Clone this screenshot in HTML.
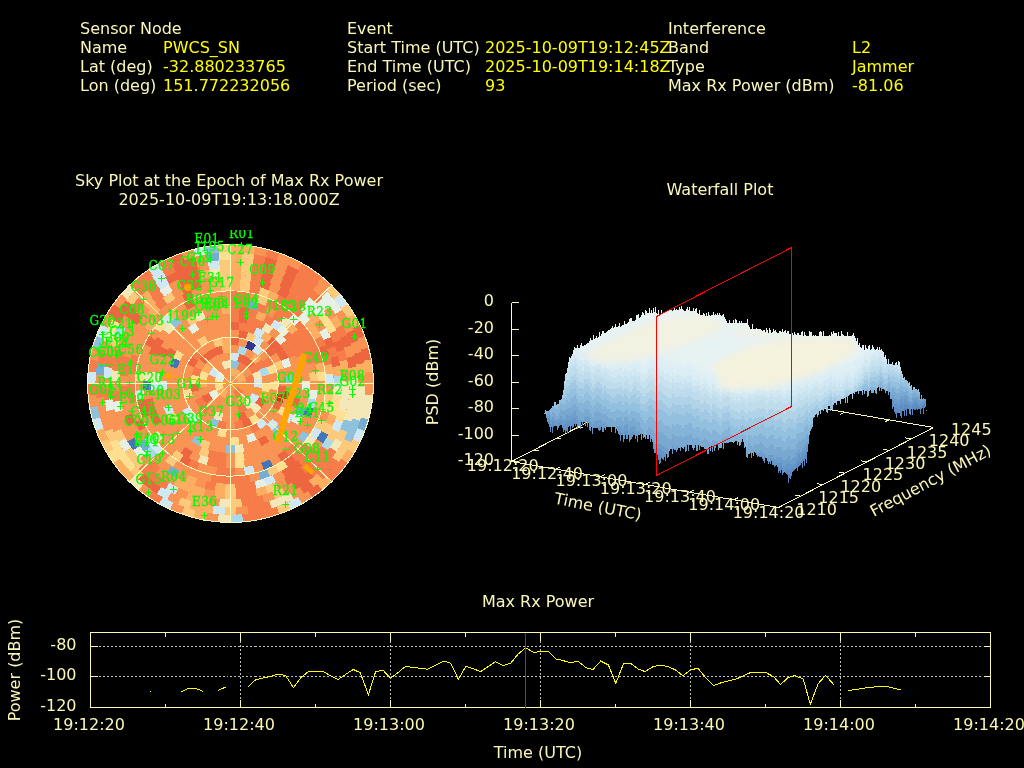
<!DOCTYPE html>
<html><head><meta charset="utf-8"><title>Interference Event Report</title>
<style>
html,body{margin:0;padding:0;background:#000;}
body{width:1024px;height:768px;overflow:hidden;}
svg{display:block;font-family:"DejaVu Sans","Liberation Sans",sans-serif;font-size:16px;}
.l{fill:#fbf7b8}
.v{fill:#ffff00}
.sat{font-family:"DejaVu Serif","Liberation Serif",serif;font-size:12px;fill:#00ff00;letter-spacing:0.45px;stroke:#00ff00;stroke-width:0.3px}
.ax{stroke:#fbf7b8;stroke-width:1;fill:none;shape-rendering:crispEdges}
.gr{stroke:#bebebe;stroke-width:1;fill:none;stroke-dasharray:2 2;shape-rendering:crispEdges}
</style></head><body>
<svg width="1024" height="768" viewBox="0 0 1024 768">
<rect width="1024" height="768" fill="#000"/>
<g id="header">
<text x="80" y="33.5" class="l">Sensor Node</text>
<text x="80" y="52.5" class="l">Name</text>
<text x="80" y="71.5" class="l">Lat (deg)</text>
<text x="80" y="90.5" class="l">Lon (deg)</text>
<text x="163" y="52.5" class="v">PWCS_SN</text>
<text x="163" y="71.5" class="v">-32.880233765</text>
<text x="163" y="90.5" class="v">151.772232056</text>
<text x="347" y="33.5" class="l">Event</text>
<text x="347" y="52.5" class="l">Start Time (UTC)</text>
<text x="347" y="71.5" class="l">End Time (UTC)</text>
<text x="347" y="90.5" class="l">Period (sec)</text>
<text x="485" y="52.5" class="v">2025-10-09T19:12:45Z</text>
<text x="485" y="71.5" class="v">2025-10-09T19:14:18Z</text>
<text x="485" y="90.5" class="v">93</text>
<text x="668" y="33.5" class="l">Interference</text>
<text x="668" y="52.5" class="l">Band</text>
<text x="668" y="71.5" class="l">Type</text>
<text x="668" y="90.5" class="l">Max Rx Power (dBm)</text>
<text x="852" y="52.5" class="v">L2</text>
<text x="852" y="71.5" class="v">Jammer</text>
<text x="852" y="90.5" class="v">-81.06</text>
</g>
<text x="229" y="185.5" class="l" text-anchor="middle">Sky Plot at the Epoch of Max Rx Power</text>
<text x="229" y="204.5" class="l" text-anchor="middle">2025-10-09T19:13:18.000Z</text>
<text x="720" y="194.5" class="l" text-anchor="middle">Waterfall Plot</text>
<text x="538" y="606.5" class="l" text-anchor="middle">Max Rx Power</text>
<g id="sky">
<g shape-rendering="crispEdges">
<ellipse cx="230.5" cy="383.5" rx="143.0" ry="139.0" fill="#f99455"/>
<polygon points="230.5,244.5 243.0,245.0 255.3,246.6 254.0,254.2 242.3,252.7 230.5,252.2" fill="#fdae61"/>
<polygon points="267.5,249.2 279.4,252.9 276.7,260.1 265.5,256.7" fill="#f67d4a"/>
<polygon points="302.0,263.1 312.5,269.6 322.4,277.0 317.3,282.9 308.0,276.0 298.0,269.8" fill="#f67d4a"/>
<polygon points="331.6,285.2 340.0,294.2 334.0,299.1 326.0,290.7" fill="#fdc97a"/>
<polygon points="340.0,294.2 347.6,303.8 341.1,308.2 334.0,299.1" fill="#cfe8f3"/>
<polygon points="347.6,303.8 354.3,314.0 347.5,317.9 341.1,308.2" fill="#fdc97a"/>
<polygon points="354.3,314.0 360.1,324.8 352.9,328.0 347.5,317.9" fill="#fdae61"/>
<polygon points="360.1,324.8 364.9,336.0 357.4,338.6 352.9,328.0" fill="#ee6640"/>
<polygon points="368.6,347.5 371.3,359.4 363.5,360.7 361.0,349.5" fill="#ee6640"/>
<polygon points="371.3,359.4 373.0,371.4 365.0,372.1 363.5,360.7" fill="#fdae61"/>
<polygon points="373.0,395.6 371.3,407.6 368.6,419.5 361.0,417.5 363.5,406.3 365.0,394.9" fill="#f5e8b8"/>
<polygon points="368.6,419.5 364.9,431.0 357.4,428.4 361.0,417.5" fill="#74add1"/>
<polygon points="364.9,431.0 360.1,442.2 352.9,439.0 357.4,428.4" fill="#cfe8f3"/>
<polygon points="360.1,442.2 354.3,453.0 347.5,449.1 352.9,439.0" fill="#fdc97a"/>
<polygon points="354.3,453.0 347.6,463.2 341.1,458.8 347.5,449.1" fill="#fdae61"/>
<polygon points="347.6,463.2 340.0,472.8 331.6,481.8 326.0,476.3 334.0,467.9 341.1,458.8" fill="#f67d4a"/>
<polygon points="331.6,481.8 322.4,490.0 317.3,484.1 326.0,476.3" fill="#fdae61"/>
<polygon points="322.4,490.0 312.5,497.4 308.0,491.0 317.3,484.1" fill="#ee6640"/>
<polygon points="302.0,503.9 290.9,509.5 287.6,502.5 298.0,497.2" fill="#cfe8f3"/>
<polygon points="290.9,509.5 279.4,514.1 276.7,506.9 287.6,502.5" fill="#fdc97a"/>
<polygon points="279.4,514.1 267.5,517.8 255.3,520.4 243.0,522.0 242.3,514.3 254.0,512.8 265.5,510.3 276.7,506.9" fill="#f67d4a"/>
<polygon points="243.0,522.0 230.5,522.5 230.5,514.8 242.3,514.3" fill="#abd9e9"/>
<polygon points="230.5,522.5 218.0,522.0 218.7,514.3 230.5,514.8" fill="#f5e8b8"/>
<polygon points="205.7,520.4 193.5,517.8 195.5,510.3 207.0,512.8" fill="#fdae61"/>
<polygon points="193.5,517.8 181.6,514.1 184.3,506.9 195.5,510.3" fill="#fdc97a"/>
<polygon points="170.1,509.5 159.0,503.9 163.0,497.2 173.4,502.5" fill="#cfe8f3"/>
<polygon points="159.0,503.9 148.5,497.4 153.0,491.0 163.0,497.2" fill="#f67d4a"/>
<polygon points="138.6,490.0 129.4,481.8 135.0,476.3 143.7,484.1" fill="#f5e8b8"/>
<polygon points="129.4,481.8 121.0,472.8 113.4,463.2 119.9,458.8 127.0,467.9 135.0,476.3" fill="#fdae61"/>
<polygon points="113.4,463.2 106.7,453.0 113.5,449.1 119.9,458.8" fill="#fee090"/>
<polygon points="106.7,453.0 100.9,442.2 108.1,439.0 113.5,449.1" fill="#fdc97a"/>
<polygon points="100.9,442.2 96.1,431.0 103.6,428.4 108.1,439.0" fill="#fdae61"/>
<polygon points="96.1,431.0 92.4,419.5 100.0,417.5 103.6,428.4" fill="#cfe8f3"/>
<polygon points="92.4,419.5 89.7,407.6 97.5,406.3 100.0,417.5" fill="#8fc1dd"/>
<polygon points="88.0,395.6 87.5,383.5 95.4,383.5 96.0,394.9" fill="#f67d4a"/>
<polygon points="87.5,383.5 88.0,371.4 96.0,372.1 95.4,383.5" fill="#cfe8f3"/>
<polygon points="88.0,371.4 89.7,359.4 97.5,360.7 96.0,372.1" fill="#f67d4a"/>
<polygon points="92.4,347.5 96.1,336.0 103.6,338.6 100.0,349.5" fill="#8fc1dd"/>
<polygon points="96.1,336.0 100.9,324.8 108.1,328.0 103.6,338.6" fill="#cfe8f3"/>
<polygon points="106.7,314.0 113.4,303.8 119.9,308.2 113.5,317.9" fill="#ee6640"/>
<polygon points="121.0,294.2 129.4,285.2 135.0,290.7 127.0,299.1" fill="#f5e8b8"/>
<polygon points="129.4,285.2 138.6,277.0 148.5,269.6 153.0,276.0 143.7,282.9 135.0,290.7" fill="#f67d4a"/>
<polygon points="148.5,269.6 159.0,263.1 163.0,269.8 153.0,276.0" fill="#cfe8f3"/>
<polygon points="159.0,263.1 170.1,257.5 173.4,264.5 163.0,269.8" fill="#f67d4a"/>
<polygon points="170.1,257.5 181.6,252.9 184.3,260.1 173.4,264.5" fill="#ee6640"/>
<polygon points="193.5,249.2 205.7,246.6 207.0,254.2 195.5,256.7" fill="#cfe8f3"/>
<polygon points="205.7,246.6 218.0,245.0 218.7,252.7 207.0,254.2" fill="#8fc1dd"/>
<polygon points="218.0,245.0 230.5,244.5 230.5,252.2 218.7,252.7" fill="#fdc97a"/>
<polygon points="230.5,252.2 242.4,252.7 241.7,260.4 230.5,259.9" fill="#fdae61"/>
<polygon points="242.4,252.7 254.3,254.3 252.9,261.9 241.7,260.4" fill="#fdc97a"/>
<polygon points="254.3,254.3 265.9,256.8 263.9,264.3 252.9,261.9" fill="#f67d4a"/>
<polygon points="265.9,256.8 277.3,260.4 274.6,267.6 263.9,264.3" fill="#ee6640"/>
<polygon points="288.3,264.9 298.9,270.3 294.9,277.0 284.9,271.8" fill="#ee6640"/>
<polygon points="298.9,270.3 308.9,276.6 318.3,283.8 313.2,289.6 304.3,282.9 294.9,277.0" fill="#f67d4a"/>
<polygon points="327.0,291.7 335.0,300.4 342.2,309.7 335.6,314.0 328.9,305.2 321.4,297.1" fill="#e6f0e4"/>
<polygon points="353.8,329.9 358.2,340.7 350.7,343.2 346.5,333.1" fill="#ee6640"/>
<polygon points="361.6,351.9 363.9,363.3 356.1,364.4 353.9,353.7" fill="#ee6640"/>
<polygon points="363.9,363.3 365.3,374.8 357.3,375.3 356.1,364.4" fill="#fdae61"/>
<polygon points="365.5,386.4 364.7,398.0 362.9,409.5 360.0,420.7 352.4,418.5 355.1,407.9 356.8,397.1 357.6,386.2" fill="#f5e8b8"/>
<polygon points="360.0,420.7 356.1,431.7 351.2,442.3 344.1,438.9 348.7,428.9 352.4,418.5" fill="#8fc1dd"/>
<polygon points="351.2,442.3 345.4,452.5 338.7,462.1 332.3,457.4 338.7,448.4 344.1,438.9" fill="#fdc97a"/>
<polygon points="338.7,462.1 331.1,471.1 322.8,479.4 317.3,473.7 325.2,465.9 332.3,457.4" fill="#f67d4a"/>
<polygon points="322.8,479.4 313.7,486.9 308.8,480.8 317.3,473.7" fill="#fdae61"/>
<polygon points="313.7,486.9 304.0,493.7 299.7,487.2 308.8,480.8" fill="#ee6640"/>
<polygon points="293.7,499.5 282.9,504.5 271.7,508.5 269.2,501.2 279.8,497.4 290.0,492.7" fill="#f5e8b8"/>
<polygon points="271.7,508.5 260.1,511.6 248.4,513.6 247.3,506.0 258.4,504.0 269.2,501.2" fill="#f67d4a"/>
<polygon points="236.5,514.6 224.5,514.6 224.9,506.9 236.1,506.9" fill="#fdc97a"/>
<polygon points="224.5,514.6 212.6,513.6 213.7,506.0 224.9,506.9" fill="#cfe8f3"/>
<polygon points="212.6,513.6 200.9,511.6 189.3,508.5 191.8,501.2 202.6,504.0 213.7,506.0" fill="#fdae61"/>
<polygon points="189.3,508.5 178.1,504.5 181.2,497.4 191.8,501.2" fill="#fdc97a"/>
<polygon points="167.3,499.5 157.0,493.7 161.3,487.2 171.0,492.7" fill="#cfe8f3"/>
<polygon points="157.0,493.7 147.3,486.9 138.2,479.4 143.7,473.7 152.2,480.8 161.3,487.2" fill="#ee6640"/>
<polygon points="138.2,479.4 129.9,471.1 135.8,465.9 143.7,473.7" fill="#fdc97a"/>
<polygon points="129.9,471.1 122.3,462.1 115.6,452.5 109.8,442.3 116.9,438.9 122.3,448.4 128.7,457.4 135.8,465.9" fill="#fee090"/>
<polygon points="109.8,442.3 104.9,431.7 112.3,428.9 116.9,438.9" fill="#fdc97a"/>
<polygon points="96.3,398.0 95.5,386.4 103.4,386.2 104.2,397.1" fill="#f67d4a"/>
<polygon points="95.7,374.8 97.1,363.3 104.9,364.4 103.7,375.3" fill="#74add1"/>
<polygon points="97.1,363.3 99.4,351.9 107.1,353.7 104.9,364.4" fill="#f67d4a"/>
<polygon points="102.8,340.7 107.2,329.9 114.5,333.1 110.3,343.2" fill="#f5e8b8"/>
<polygon points="107.2,329.9 112.6,319.5 119.5,323.3 114.5,333.1" fill="#fee090"/>
<polygon points="112.6,319.5 118.8,309.7 126.0,300.4 132.1,305.2 125.4,314.0 119.5,323.3" fill="#ee6640"/>
<polygon points="126.0,300.4 134.0,291.7 139.6,297.1 132.1,305.2" fill="#fdc97a"/>
<polygon points="134.0,291.7 142.7,283.8 152.1,276.6 156.7,282.9 147.8,289.6 139.6,297.1" fill="#f67d4a"/>
<polygon points="152.1,276.6 162.1,270.3 166.1,277.0 156.7,282.9" fill="#cfe8f3"/>
<polygon points="162.1,270.3 172.7,264.9 176.1,271.8 166.1,277.0" fill="#f67d4a"/>
<polygon points="172.7,264.9 183.7,260.4 195.1,256.8 197.1,264.3 186.4,267.6 176.1,271.8" fill="#ee6640"/>
<polygon points="206.7,254.3 218.6,252.7 219.3,260.4 208.1,261.9" fill="#74add1"/>
<polygon points="218.6,252.7 230.5,252.2 230.5,259.9 219.3,260.4" fill="#fee090"/>
<polygon points="230.5,259.9 241.9,260.4 241.2,268.1 230.5,267.7" fill="#fdae61"/>
<polygon points="241.9,260.4 253.2,261.9 251.8,269.5 241.2,268.1" fill="#fdc97a"/>
<polygon points="253.2,261.9 264.3,264.4 262.2,271.8 251.8,269.5" fill="#f67d4a"/>
<polygon points="264.3,264.4 275.2,267.8 272.4,275.1 262.2,271.8" fill="#ee6640"/>
<polygon points="285.7,272.2 295.7,277.4 291.6,284.1 282.2,279.1" fill="#ee6640"/>
<polygon points="295.7,277.4 305.2,283.5 314.1,290.5 322.4,298.1 316.6,303.5 308.9,296.3 300.5,289.8 291.6,284.1" fill="#f67d4a"/>
<polygon points="322.4,298.1 329.9,306.5 323.7,311.3 316.6,303.5" fill="#e6f0e4"/>
<polygon points="336.6,315.4 342.4,325.0 335.4,328.6 330.0,319.7" fill="#fdae61"/>
<polygon points="342.4,325.0 347.4,334.9 340.1,338.0 335.4,328.6" fill="#f67d4a"/>
<polygon points="347.4,334.9 351.4,345.3 343.8,347.7 340.1,338.0" fill="#ee6640"/>
<polygon points="354.4,356.0 356.5,366.9 348.6,368.0 346.7,357.7" fill="#ee6640"/>
<polygon points="356.5,366.9 357.5,378.0 349.5,378.3 348.6,368.0" fill="#fdae61"/>
<polygon points="357.5,378.0 357.5,389.0 356.5,400.1 354.4,411.0 351.4,421.7 343.8,419.3 346.7,409.3 348.6,399.0 349.5,388.7 349.5,378.3" fill="#f5e8b8"/>
<polygon points="351.4,421.7 347.4,432.1 340.1,429.0 343.8,419.3" fill="#8fc1dd"/>
<polygon points="347.4,432.1 342.4,442.0 335.4,438.4 340.1,429.0" fill="#fdc97a"/>
<polygon points="342.4,442.0 336.6,451.6 330.0,447.3 335.4,438.4" fill="#f5e8b8"/>
<polygon points="336.6,451.6 329.9,460.5 322.4,468.9 314.1,476.5 308.9,470.7 316.6,463.5 323.7,455.7 330.0,447.3" fill="#f67d4a"/>
<polygon points="314.1,476.5 305.2,483.5 295.7,489.6 291.6,482.9 300.5,477.2 308.9,470.7" fill="#ee6640"/>
<polygon points="285.7,494.8 275.2,499.2 272.4,491.9 282.2,487.9" fill="#fdc97a"/>
<polygon points="264.3,502.6 253.2,505.1 241.9,506.6 241.2,498.9 251.8,497.5 262.2,495.2" fill="#f67d4a"/>
<polygon points="241.9,506.6 230.5,507.1 230.5,499.3 241.2,498.9" fill="#fdc97a"/>
<polygon points="230.5,507.1 219.1,506.6 219.8,498.9 230.5,499.3" fill="#f5e8b8"/>
<polygon points="207.8,505.1 196.7,502.6 185.8,499.2 188.6,491.9 198.8,495.2 209.2,497.5" fill="#fdae61"/>
<polygon points="175.3,494.8 165.3,489.6 169.4,482.9 178.8,487.9" fill="#cfe8f3"/>
<polygon points="165.3,489.6 155.8,483.5 146.9,476.5 138.6,468.9 144.4,463.5 152.1,470.7 160.5,477.2 169.4,482.9" fill="#f67d4a"/>
<polygon points="138.6,468.9 131.1,460.5 124.4,451.6 131.0,447.3 137.3,455.7 144.4,463.5" fill="#fdc97a"/>
<polygon points="124.4,451.6 118.6,442.0 125.6,438.4 131.0,447.3" fill="#e6f0e4"/>
<polygon points="118.6,442.0 113.6,432.1 120.9,429.0 125.6,438.4" fill="#fdc97a"/>
<polygon points="106.6,411.0 104.5,400.1 112.4,399.0 114.3,409.3" fill="#e6f0e4"/>
<polygon points="104.5,400.1 103.5,389.0 111.5,388.7 112.4,399.0" fill="#f67d4a"/>
<polygon points="103.5,378.0 104.5,366.9 112.4,368.0 111.5,378.3" fill="#cfe8f3"/>
<polygon points="104.5,366.9 106.6,356.0 114.3,357.7 112.4,368.0" fill="#f67d4a"/>
<polygon points="109.6,345.3 113.6,334.9 120.9,338.0 117.2,347.7" fill="#fdc97a"/>
<polygon points="113.6,334.9 118.6,325.0 125.6,328.6 120.9,338.0" fill="#abd9e9"/>
<polygon points="124.4,315.4 131.1,306.5 137.3,311.3 131.0,319.7" fill="#ee6640"/>
<polygon points="131.1,306.5 138.6,298.1 144.4,303.5 137.3,311.3" fill="#f67d4a"/>
<polygon points="138.6,298.1 146.9,290.5 152.1,296.3 144.4,303.5" fill="#fdae61"/>
<polygon points="146.9,290.5 155.8,283.5 160.5,289.8 152.1,296.3" fill="#f67d4a"/>
<polygon points="155.8,283.5 165.3,277.4 169.4,284.1 160.5,289.8" fill="#cfe8f3"/>
<polygon points="165.3,277.4 175.3,272.2 185.8,267.8 196.7,264.4 198.8,271.8 188.6,275.1 178.8,279.1 169.4,284.1" fill="#ee6640"/>
<polygon points="207.8,261.9 219.1,260.4 219.8,268.1 209.2,269.5" fill="#cfe8f3"/>
<polygon points="219.1,260.4 230.5,259.9 230.5,267.7 219.8,268.1" fill="#fdc97a"/>
<polygon points="230.5,267.7 241.3,268.1 240.6,275.8 230.5,275.4" fill="#fdae61"/>
<polygon points="241.3,268.1 252.1,269.6 250.6,277.2 240.6,275.8" fill="#fdc97a"/>
<polygon points="252.1,269.6 262.7,272.0 260.5,279.4 250.6,277.2" fill="#f67d4a"/>
<polygon points="262.7,272.0 273.0,275.3 270.1,282.5 260.5,279.4" fill="#ee6640"/>
<polygon points="282.9,279.5 292.4,284.5 288.3,291.1 279.4,286.4" fill="#ee6640"/>
<polygon points="292.4,284.5 301.4,290.4 309.8,297.1 304.5,302.8 296.7,296.6 288.3,291.1" fill="#f67d4a"/>
<polygon points="309.8,297.1 317.6,304.4 324.6,312.5 318.4,317.2 311.8,309.7 304.5,302.8" fill="#e6f0e4"/>
<polygon points="324.6,312.5 330.9,321.1 336.3,330.2 329.3,333.8 324.2,325.2 318.4,317.2" fill="#fee090"/>
<polygon points="336.3,330.2 340.9,339.8 333.5,342.7 329.3,333.8" fill="#f67d4a"/>
<polygon points="340.9,339.8 344.5,349.7 336.9,352.0 333.5,342.7" fill="#ee6640"/>
<polygon points="344.5,349.7 347.2,359.9 339.4,361.5 336.9,352.0" fill="#f67d4a"/>
<polygon points="347.2,359.9 348.9,370.3 341.0,371.2 339.4,361.5" fill="#fdae61"/>
<polygon points="349.6,380.9 349.4,391.4 348.2,401.9 345.9,412.2 338.3,410.3 340.3,400.7 341.5,390.9 341.7,381.0" fill="#f5e8b8"/>
<polygon points="345.9,412.2 342.8,422.3 335.3,419.7 338.3,410.3" fill="#fee090"/>
<polygon points="342.8,422.3 338.7,432.1 331.5,428.8 335.3,419.7" fill="#cfe8f3"/>
<polygon points="338.7,432.1 333.7,441.4 326.8,437.6 331.5,428.8" fill="#fdc97a"/>
<polygon points="333.7,441.4 327.9,450.3 321.4,445.8 326.8,437.6" fill="#abd9e9"/>
<polygon points="327.9,450.3 321.2,458.6 313.8,466.3 305.7,473.4 300.7,467.4 308.2,460.8 315.2,453.6 321.4,445.8" fill="#f67d4a"/>
<polygon points="305.7,473.4 297.0,479.6 287.7,485.1 283.9,478.3 292.6,473.2 300.7,467.4" fill="#ee6640"/>
<polygon points="278.0,489.7 267.8,493.5 265.4,486.2 274.8,482.7" fill="#fdc97a"/>
<polygon points="267.8,493.5 257.4,496.3 255.6,488.8 265.4,486.2" fill="#fdae61"/>
<polygon points="257.4,496.3 246.7,498.3 235.9,499.2 235.6,491.5 245.6,490.6 255.6,488.8" fill="#f67d4a"/>
<polygon points="235.9,499.2 225.1,499.2 225.4,491.5 235.6,491.5" fill="#fdc97a"/>
<polygon points="225.1,499.2 214.3,498.3 215.4,490.6 225.4,491.5" fill="#fdae61"/>
<polygon points="203.6,496.3 193.2,493.5 183.0,489.7 173.3,485.1 177.1,478.3 186.2,482.7 195.6,486.2 205.4,488.8" fill="#fdae61"/>
<polygon points="155.3,473.4 147.2,466.3 152.8,460.8 160.3,467.4" fill="#f67d4a"/>
<polygon points="139.8,458.6 133.1,450.3 139.6,445.8 145.8,453.6" fill="#e6f0e4"/>
<polygon points="133.1,450.3 127.3,441.4 134.2,437.6 139.6,445.8" fill="#4575b4"/>
<polygon points="115.1,412.2 112.8,401.9 120.7,400.7 122.7,410.3" fill="#e6f0e4"/>
<polygon points="112.8,401.9 111.6,391.4 119.5,390.9 120.7,400.7" fill="#f67d4a"/>
<polygon points="111.4,380.9 112.1,370.3 120.0,371.2 119.3,381.0" fill="#f5e8b8"/>
<polygon points="112.1,370.3 113.8,359.9 116.5,349.7 124.1,352.0 121.6,361.5 120.0,371.2" fill="#f67d4a"/>
<polygon points="130.1,321.1 136.4,312.5 142.6,317.2 136.8,325.2" fill="#ee6640"/>
<polygon points="143.4,304.4 151.2,297.1 156.5,302.8 149.2,309.7" fill="#fdae61"/>
<polygon points="151.2,297.1 159.6,290.4 164.3,296.6 156.5,302.8" fill="#f67d4a"/>
<polygon points="159.6,290.4 168.6,284.5 172.7,291.1 164.3,296.6" fill="#e6f0e4"/>
<polygon points="178.1,279.5 188.0,275.3 198.3,272.0 200.5,279.4 190.9,282.5 181.6,286.4" fill="#ee6640"/>
<polygon points="198.3,272.0 208.9,269.6 210.4,277.2 200.5,279.4" fill="#fdae61"/>
<polygon points="208.9,269.6 219.7,268.1 220.4,275.8 210.4,277.2" fill="#f5e8b8"/>
<polygon points="219.7,268.1 230.5,267.7 230.5,275.4 220.4,275.8" fill="#fdc97a"/>
<polygon points="230.5,275.4 240.9,275.9 240.2,283.6 230.5,283.1" fill="#fdae61"/>
<polygon points="240.9,275.9 251.2,277.3 249.8,284.9 240.2,283.6" fill="#fdc97a"/>
<polygon points="251.2,277.3 261.4,279.6 259.2,287.1 249.8,284.9" fill="#f67d4a"/>
<polygon points="261.4,279.6 271.2,282.9 268.3,290.1 259.2,287.1" fill="#ee6640"/>
<polygon points="280.8,287.1 289.8,292.1 285.6,298.6 277.2,293.9" fill="#ee6640"/>
<polygon points="289.8,292.1 298.4,297.9 306.3,304.4 300.9,310.1 293.5,304.0 285.6,298.6" fill="#f67d4a"/>
<polygon points="306.3,304.4 313.6,311.7 307.7,316.8 300.9,310.1" fill="#e6f0e4"/>
<polygon points="313.6,311.7 320.2,319.5 313.8,324.1 307.7,316.8" fill="#fdae61"/>
<polygon points="325.9,328.0 330.9,336.9 323.7,340.2 319.1,332.0" fill="#e6f0e4"/>
<polygon points="330.9,336.9 334.9,346.3 327.5,348.9 323.7,340.2" fill="#ee6640"/>
<polygon points="334.9,346.3 338.0,355.9 330.4,357.9 327.5,348.9" fill="#f67d4a"/>
<polygon points="338.0,355.9 340.2,365.8 332.4,367.1 330.4,357.9" fill="#ee6640"/>
<polygon points="340.2,365.8 341.4,375.9 333.5,376.4 332.4,367.1" fill="#fdae61"/>
<polygon points="341.4,375.9 341.7,386.0 333.7,385.9 333.5,376.4" fill="#abd9e9"/>
<polygon points="341.7,386.0 341.0,396.1 333.1,395.2 333.7,385.9" fill="#f5e8b8"/>
<polygon points="341.0,396.1 339.3,406.1 336.6,415.9 329.0,413.6 331.5,404.5 333.1,395.2" fill="#fee090"/>
<polygon points="336.6,415.9 333.0,425.5 325.7,422.5 329.0,413.6" fill="#fdae61"/>
<polygon points="333.0,425.5 328.5,434.6 321.5,431.0 325.7,422.5" fill="#fdc97a"/>
<polygon points="328.5,434.6 323.2,443.3 316.5,439.0 321.5,431.0" fill="#4575b4"/>
<polygon points="317.0,451.5 310.1,459.0 302.4,466.0 297.3,460.1 304.4,453.6 310.8,446.6" fill="#f67d4a"/>
<polygon points="302.4,466.0 294.2,472.1 285.4,477.5 281.4,470.8 289.6,465.8 297.3,460.1" fill="#ee6640"/>
<polygon points="276.1,482.1 266.4,485.8 263.8,478.5 272.8,475.1" fill="#cfe8f3"/>
<polygon points="266.4,485.8 256.3,488.7 254.5,481.1 263.8,478.5" fill="#e6f0e4"/>
<polygon points="256.3,488.7 246.1,490.5 235.7,491.5 235.3,483.8 245.0,482.9 254.5,481.1" fill="#f67d4a"/>
<polygon points="235.7,491.5 225.3,491.5 225.7,483.8 235.3,483.8" fill="#fdc97a"/>
<polygon points="225.3,491.5 214.9,490.5 216.0,482.9 225.7,483.8" fill="#fdae61"/>
<polygon points="214.9,490.5 204.7,488.7 206.5,481.1 216.0,482.9" fill="#f67d4a"/>
<polygon points="194.6,485.8 184.9,482.1 188.2,475.1 197.2,478.5" fill="#fdae61"/>
<polygon points="175.6,477.5 166.8,472.1 171.4,465.8 179.6,470.8" fill="#74add1"/>
<polygon points="150.9,459.0 144.0,451.5 150.2,446.6 156.6,453.6" fill="#abd9e9"/>
<polygon points="144.0,451.5 137.8,443.3 144.5,439.0 150.2,446.6" fill="#74add1"/>
<polygon points="128.0,425.5 124.4,415.9 132.0,413.6 135.3,422.5" fill="#ee6640"/>
<polygon points="120.0,396.1 119.3,386.0 127.3,385.9 127.9,395.2" fill="#f67d4a"/>
<polygon points="119.6,375.9 120.8,365.8 123.0,355.9 130.6,357.9 128.6,367.1 127.5,376.4" fill="#f67d4a"/>
<polygon points="147.4,311.7 154.7,304.4 160.1,310.1 153.3,316.8" fill="#fdae61"/>
<polygon points="154.7,304.4 162.6,297.9 167.5,304.0 160.1,310.1" fill="#f67d4a"/>
<polygon points="162.6,297.9 171.2,292.1 175.4,298.6 167.5,304.0" fill="#fdc97a"/>
<polygon points="180.2,287.1 189.8,282.9 199.6,279.6 201.8,287.1 192.7,290.1 183.8,293.9" fill="#ee6640"/>
<polygon points="209.8,277.3 220.1,275.9 220.8,283.6 211.2,284.9" fill="#fdae61"/>
<polygon points="220.1,275.9 230.5,275.4 230.5,283.1 220.8,283.6" fill="#fdc97a"/>
<polygon points="230.5,283.1 240.6,283.6 239.8,291.3 230.5,290.8" fill="#fdae61"/>
<polygon points="240.6,283.6 250.6,285.0 249.1,292.6 239.8,291.3" fill="#fdc97a"/>
<polygon points="250.6,285.0 260.5,287.4 258.2,294.8 249.1,292.6" fill="#f67d4a"/>
<polygon points="260.5,287.4 270.0,290.8 267.0,297.9 258.2,294.8" fill="#fdc97a"/>
<polygon points="270.0,290.8 279.2,295.0 275.4,301.8 267.0,297.9" fill="#fdae61"/>
<polygon points="279.2,295.0 287.9,300.0 296.0,305.9 303.5,312.5 297.9,318.0 291.0,311.9 283.5,306.5 275.4,301.8" fill="#f67d4a"/>
<polygon points="303.5,312.5 310.3,319.8 304.2,324.7 297.9,318.0" fill="#e6f0e4"/>
<polygon points="310.3,319.8 316.4,327.7 321.6,336.2 314.6,339.8 309.8,332.0 304.2,324.7" fill="#fdae61"/>
<polygon points="321.6,336.2 325.9,345.1 318.6,348.0 314.6,339.8" fill="#f67d4a"/>
<polygon points="325.9,345.1 329.3,354.4 321.7,356.6 318.6,348.0" fill="#ee6640"/>
<polygon points="329.3,354.4 331.8,363.9 324.0,365.4 321.7,356.6" fill="#f67d4a"/>
<polygon points="331.8,363.9 333.3,373.7 325.4,374.4 324.0,365.4" fill="#fdae61"/>
<polygon points="333.3,373.7 333.8,383.5 325.8,383.5 325.4,374.4" fill="#cfe8f3"/>
<polygon points="333.3,393.3 331.8,403.1 324.0,401.6 325.4,392.6" fill="#fdc97a"/>
<polygon points="331.8,403.1 329.3,412.6 321.7,410.4 324.0,401.6" fill="#fee090"/>
<polygon points="325.9,421.9 321.6,430.8 314.6,427.2 318.6,419.0" fill="#fdc97a"/>
<polygon points="321.6,430.8 316.4,439.3 309.8,435.0 314.6,427.2" fill="#cfe8f3"/>
<polygon points="316.4,439.3 310.3,447.2 304.2,442.3 309.8,435.0" fill="#f5e8b8"/>
<polygon points="310.3,447.2 303.5,454.5 296.0,461.1 291.0,455.1 297.9,449.0 304.2,442.3" fill="#f67d4a"/>
<polygon points="296.0,461.1 287.9,467.0 283.5,460.5 291.0,455.1" fill="#ee6640"/>
<polygon points="287.9,467.0 279.2,472.0 275.4,465.2 283.5,460.5" fill="#fee090"/>
<polygon points="279.2,472.0 270.0,476.2 267.0,469.1 275.4,465.2" fill="#fdc97a"/>
<polygon points="270.0,476.2 260.5,479.6 258.2,472.2 267.0,469.1" fill="#74add1"/>
<polygon points="250.6,482.0 240.6,483.4 230.5,483.9 220.4,483.4 210.4,482.0 211.9,474.4 221.2,475.7 230.5,476.2 239.8,475.7 249.1,474.4" fill="#f67d4a"/>
<polygon points="173.1,467.0 165.0,461.1 170.0,455.1 177.5,460.5" fill="#fdc97a"/>
<polygon points="157.5,454.5 150.7,447.2 144.6,439.3 151.2,435.0 156.8,442.3 163.1,449.0" fill="#cfe8f3"/>
<polygon points="139.4,430.8 135.1,421.9 142.4,419.0 146.4,427.2" fill="#ee6640"/>
<polygon points="129.2,403.1 127.7,393.3 127.2,383.5 135.2,383.5 135.6,392.6 137.0,401.6" fill="#f67d4a"/>
<polygon points="127.7,373.7 129.2,363.9 131.7,354.4 139.3,356.6 137.0,365.4 135.6,374.4" fill="#f67d4a"/>
<polygon points="144.6,327.7 150.7,319.8 156.8,324.7 151.2,332.0" fill="#fdae61"/>
<polygon points="181.8,295.0 191.0,290.8 194.0,297.9 185.6,301.8" fill="#ee6640"/>
<polygon points="210.4,285.0 220.4,283.6 221.2,291.3 211.9,292.6" fill="#fdae61"/>
<polygon points="220.4,283.6 230.5,283.1 230.5,290.8 221.2,291.3" fill="#fdc97a"/>
<polygon points="230.5,290.8 240.3,291.3 250.0,292.8 248.4,300.4 239.5,299.0 230.5,298.6" fill="#f67d4a"/>
<polygon points="259.5,295.2 268.7,298.6 265.5,305.7 257.1,302.6" fill="#fdc97a"/>
<polygon points="268.7,298.6 277.5,302.9 285.7,308.0 293.4,313.9 288.2,319.7 281.1,314.3 273.5,309.6 265.5,305.7" fill="#f67d4a"/>
<polygon points="293.4,313.9 300.5,320.6 294.6,325.8 288.2,319.7" fill="#e6f0e4"/>
<polygon points="300.5,320.6 306.8,327.9 312.2,335.8 316.8,344.2 320.5,353.1 323.3,362.2 315.6,364.0 313.0,355.6 309.6,347.5 305.4,339.8 300.4,332.5 294.6,325.8" fill="#f67d4a"/>
<polygon points="323.3,362.2 325.0,371.6 317.2,372.6 315.6,364.0" fill="#fdae61"/>
<polygon points="325.0,371.6 325.8,381.1 317.9,381.3 317.2,372.6" fill="#fee090"/>
<polygon points="325.5,390.7 324.3,400.1 322.0,409.4 314.4,407.2 316.5,398.7 317.6,390.1" fill="#fdae61"/>
<polygon points="309.6,435.2 303.7,442.9 297.6,437.9 303.0,430.9" fill="#8fc1dd"/>
<polygon points="297.0,449.9 289.7,456.2 284.7,450.1 291.5,444.3" fill="#f67d4a"/>
<polygon points="289.7,456.2 281.7,461.7 277.4,455.2 284.7,450.1" fill="#ee6640"/>
<polygon points="273.1,466.4 264.1,470.2 261.3,463.0 269.6,459.5" fill="#4575b4"/>
<polygon points="254.8,473.1 245.2,475.1 243.9,467.4 252.8,465.6" fill="#cfe8f3"/>
<polygon points="235.4,476.0 225.6,476.0 215.8,475.1 217.1,467.4 226.0,468.3 235.0,468.3" fill="#f67d4a"/>
<polygon points="196.9,470.2 187.9,466.4 191.4,459.5 199.7,463.0" fill="#f67d4a"/>
<polygon points="187.9,466.4 179.3,461.7 183.6,455.2 191.4,459.5" fill="#ee6640"/>
<polygon points="179.3,461.7 171.3,456.2 176.3,450.1 183.6,455.2" fill="#fdc97a"/>
<polygon points="157.3,442.9 151.4,435.2 158.0,430.9 163.4,437.9" fill="#f5e8b8"/>
<polygon points="142.2,418.4 139.0,409.4 136.7,400.1 144.5,398.7 146.6,407.2 149.5,415.5" fill="#ee6640"/>
<polygon points="136.7,400.1 135.5,390.7 143.4,390.1 144.5,398.7" fill="#cfe8f3"/>
<polygon points="135.2,381.1 136.0,371.6 143.8,372.6 143.1,381.3" fill="#fee090"/>
<polygon points="144.2,344.2 148.8,335.8 155.6,339.8 151.4,347.5" fill="#ee6640"/>
<polygon points="154.2,327.9 160.5,320.6 166.4,325.8 160.6,332.5" fill="#fee090"/>
<polygon points="160.5,320.6 167.6,313.9 172.8,319.7 166.4,325.8" fill="#cfe8f3"/>
<polygon points="167.6,313.9 175.3,308.0 179.9,314.3 172.8,319.7" fill="#fdae61"/>
<polygon points="183.5,302.9 192.3,298.6 195.5,305.7 187.5,309.6" fill="#ee6640"/>
<polygon points="230.5,298.6 240.1,299.1 249.6,300.6 247.9,308.1 239.2,306.7 230.5,306.3" fill="#f67d4a"/>
<polygon points="249.6,300.6 258.9,303.2 256.3,310.5 247.9,308.1" fill="#74add1"/>
<polygon points="258.9,303.2 267.8,306.7 264.4,313.7 256.3,310.5" fill="#f67d4a"/>
<polygon points="276.3,311.1 284.2,316.5 279.3,322.6 272.1,317.7" fill="#f67d4a"/>
<polygon points="284.2,316.5 291.4,322.6 285.9,328.1 279.3,322.6" fill="#f5e8b8"/>
<polygon points="291.4,322.6 298.0,329.5 291.8,334.4 285.9,328.1" fill="#fdae61"/>
<polygon points="298.0,329.5 302.6,335.5 306.7,341.8 310.1,348.5 313.0,355.5 315.2,362.6 307.5,364.5 305.5,358.0 302.9,351.7 299.7,345.6 296.0,339.8 291.8,334.4" fill="#f67d4a"/>
<polygon points="317.1,371.8 317.9,381.2 309.9,381.4 309.2,372.9" fill="#fdc97a"/>
<polygon points="317.6,390.5 316.3,399.8 308.5,398.3 309.7,389.9" fill="#e6f0e4"/>
<polygon points="316.3,399.8 313.9,408.9 306.3,406.6 308.5,398.3" fill="#abd9e9"/>
<polygon points="313.9,408.9 310.5,417.6 303.3,414.5 306.3,406.6" fill="#4575b4"/>
<polygon points="244.9,467.3 235.3,468.3 234.9,460.6 243.6,459.7" fill="#fee090"/>
<polygon points="225.7,468.3 216.1,467.3 206.7,465.2 208.9,457.8 217.4,459.7 226.1,460.6" fill="#f67d4a"/>
<polygon points="206.7,465.2 197.6,462.2 200.6,455.0 208.9,457.8" fill="#f5e8b8"/>
<polygon points="188.9,458.2 180.7,453.3 185.2,447.0 192.7,451.4" fill="#ee6640"/>
<polygon points="154.8,426.0 150.5,417.6 147.1,408.9 144.7,399.8 152.5,398.3 154.7,406.6 157.7,414.5 161.7,422.1" fill="#ee6640"/>
<polygon points="143.4,390.5 143.1,381.2 151.1,381.4 151.3,389.9" fill="#4575b4"/>
<polygon points="143.1,381.2 143.9,371.8 151.8,372.9 151.1,381.4" fill="#f5e8b8"/>
<polygon points="148.7,353.7 152.5,345.1 157.3,337.0 164.0,341.3 159.6,348.6 156.1,356.4" fill="#ee6640"/>
<polygon points="163.0,329.5 169.6,322.6 175.1,328.1 169.2,334.4" fill="#f5e8b8"/>
<polygon points="169.6,322.6 176.8,316.5 181.7,322.6 175.1,328.1" fill="#8fc1dd"/>
<polygon points="230.5,306.3 239.9,306.8 239.0,314.5 230.5,314.0" fill="#f67d4a"/>
<polygon points="239.9,306.8 249.2,308.4 247.3,315.9 239.0,314.5" fill="#ee6640"/>
<polygon points="249.2,308.4 258.2,311.1 255.4,318.3 247.3,315.9" fill="#f67d4a"/>
<polygon points="258.2,311.1 266.8,314.8 263.1,321.7 255.4,318.3" fill="#fdae61"/>
<polygon points="266.8,314.8 274.9,319.5 270.4,325.9 263.1,321.7" fill="#f67d4a"/>
<polygon points="274.9,319.5 282.4,325.0 277.2,330.9 270.4,325.9" fill="#cfe8f3"/>
<polygon points="282.4,325.0 289.1,331.4 283.3,336.6 277.2,330.9" fill="#e6f0e4"/>
<polygon points="289.1,331.4 293.6,336.6 297.7,342.3 301.2,348.2 304.1,354.5 296.8,357.4 294.1,351.8 291.0,346.4 287.3,341.3 283.3,336.6" fill="#f67d4a"/>
<polygon points="309.9,381.2 309.6,390.4 301.7,389.7 302.0,381.4" fill="#e6f0e4"/>
<polygon points="305.8,408.2 302.2,416.7 295.1,413.4 298.2,405.8" fill="#74add1"/>
<polygon points="302.2,416.7 297.7,424.7 291.0,420.6 295.1,413.4" fill="#e6f0e4"/>
<polygon points="244.6,459.5 235.2,460.6 234.7,452.9 243.1,451.9" fill="#fee090"/>
<polygon points="225.8,460.6 216.4,459.5 207.3,457.4 209.6,450.0 217.9,451.9 226.3,452.9" fill="#f67d4a"/>
<polygon points="207.3,457.4 198.5,454.2 201.7,447.1 209.6,450.0" fill="#fdc97a"/>
<polygon points="151.4,390.4 151.1,381.2 159.0,381.4 159.3,389.7" fill="#cfe8f3"/>
<polygon points="151.1,381.2 151.9,372.1 159.8,373.2 159.0,381.4" fill="#f5e8b8"/>
<polygon points="156.9,354.5 160.9,346.2 167.9,349.9 164.2,357.4" fill="#ee6640"/>
<polygon points="186.1,319.5 194.2,314.8 197.9,321.7 190.6,325.9" fill="#fdc97a"/>
<polygon points="194.2,314.8 202.8,311.1 205.6,318.3 197.9,321.7" fill="#f5e8b8"/>
<polygon points="221.1,306.8 230.5,306.3 230.5,314.0 222.0,314.5" fill="#fdae61"/>
<polygon points="230.5,314.0 239.6,314.6 238.6,322.2 230.5,321.7" fill="#f67d4a"/>
<polygon points="239.6,314.6 248.6,316.3 246.6,323.7 238.6,322.2" fill="#ee6640"/>
<polygon points="248.6,316.3 257.3,319.1 265.6,322.9 261.7,329.7 254.4,326.2 246.6,323.7" fill="#f67d4a"/>
<polygon points="265.6,322.9 273.3,327.8 268.5,334.0 261.7,329.7" fill="#f5e8b8"/>
<polygon points="280.2,333.6 286.4,340.2 280.2,345.0 274.7,339.1" fill="#e6f0e4"/>
<polygon points="286.4,340.2 291.6,347.5 295.9,355.4 288.6,358.5 284.8,351.5 280.2,345.0" fill="#f67d4a"/>
<polygon points="300.2,399.0 297.6,407.5 290.1,404.8 292.5,397.2" fill="#ee6640"/>
<polygon points="293.9,415.6 289.1,423.3 282.6,418.8 286.8,412.1" fill="#cfe8f3"/>
<polygon points="283.4,430.2 276.8,436.4 271.7,430.5 277.5,425.0" fill="#8fc1dd"/>
<polygon points="269.5,441.7 261.5,446.1 258.1,439.2 265.2,435.3" fill="#ee6640"/>
<polygon points="244.2,451.7 235.1,452.9 234.6,445.2 242.6,444.1" fill="#f5e8b8"/>
<polygon points="235.1,452.9 225.9,452.9 226.4,445.2 234.6,445.2" fill="#8fc1dd"/>
<polygon points="208.0,449.5 199.5,446.1 202.9,439.2 210.5,442.1" fill="#fdc97a"/>
<polygon points="199.5,446.1 191.5,441.7 195.8,435.3 202.9,439.2" fill="#8fc1dd"/>
<polygon points="171.9,423.3 167.1,415.6 174.2,412.1 178.4,418.8" fill="#fdc97a"/>
<polygon points="167.1,415.6 163.4,407.5 170.9,404.8 174.2,412.1" fill="#cfe8f3"/>
<polygon points="159.3,390.2 159.0,381.3 167.0,381.5 167.2,389.4" fill="#cfe8f3"/>
<polygon points="165.1,355.4 169.4,347.5 176.2,351.5 172.4,358.5" fill="#ee6640"/>
<polygon points="187.7,327.8 195.4,322.9 199.3,329.7 192.5,334.0" fill="#e6f0e4"/>
<polygon points="230.5,321.7 239.5,322.4 238.4,330.0 230.5,329.4" fill="#ee6640"/>
<polygon points="239.5,322.4 245.5,323.5 251.3,325.1 256.9,327.3 253.6,334.3 248.7,332.4 243.6,331.0 238.4,330.0" fill="#f67d4a"/>
<polygon points="256.9,327.3 264.9,331.5 260.6,338.0 253.6,334.3" fill="#cfe8f3"/>
<polygon points="264.9,331.5 272.1,336.8 266.9,342.6 260.6,338.0" fill="#fdae61"/>
<polygon points="272.1,336.8 277.0,341.4 281.4,346.5 285.2,352.0 288.3,357.8 281.1,361.0 278.3,355.9 275.0,351.1 271.2,346.7 266.9,342.6" fill="#ee6640"/>
<polygon points="288.3,357.8 291.5,366.1 283.9,368.3 281.1,361.0" fill="#e6f0e4"/>
<polygon points="293.4,374.7 294.1,383.5 286.1,383.5 285.5,375.8" fill="#8fc1dd"/>
<polygon points="293.4,392.3 291.5,400.9 283.9,398.7 285.5,391.2" fill="#d73027"/>
<polygon points="288.3,409.2 284.0,416.9 277.3,412.7 281.1,406.0" fill="#fee090"/>
<polygon points="278.5,424.0 272.1,430.2 266.9,424.4 272.5,418.9" fill="#cfe8f3"/>
<polygon points="256.9,439.7 248.4,442.8 246.2,435.4 253.6,432.7" fill="#e6f0e4"/>
<polygon points="239.5,444.6 230.5,445.3 230.5,437.6 238.4,437.0" fill="#fee090"/>
<polygon points="169.5,366.1 172.7,357.8 179.9,361.0 177.1,368.3" fill="#4575b4"/>
<polygon points="172.7,357.8 177.0,350.1 183.7,354.3 179.9,361.0" fill="#fee090"/>
<polygon points="239.4,330.1 248.1,332.2 245.6,339.6 238.1,337.8" fill="#ee6640"/>
<polygon points="248.1,332.2 256.3,335.6 252.7,342.5 245.6,339.6" fill="#fdc97a"/>
<polygon points="256.3,335.6 263.9,340.3 259.1,346.5 252.7,342.5" fill="#cfe8f3"/>
<polygon points="270.6,346.1 276.3,352.8 269.7,357.2 264.9,351.4" fill="#ee6640"/>
<polygon points="280.7,360.3 283.9,368.5 276.3,370.6 273.6,363.6" fill="#fdc97a"/>
<polygon points="286.1,385.7 285.0,394.3 277.2,392.8 278.1,385.4" fill="#ee6640"/>
<polygon points="285.0,394.3 282.5,402.7 275.1,399.9 277.2,392.8" fill="#d73027"/>
<polygon points="282.5,402.7 278.7,410.5 271.8,406.7 275.1,399.9" fill="#ee6640"/>
<polygon points="267.4,424.0 260.2,429.2 256.0,422.7 262.1,418.2" fill="#cfe8f3"/>
<polygon points="260.2,429.2 252.3,433.2 249.2,426.1 256.0,422.7" fill="#f67d4a"/>
<polygon points="226.0,437.4 217.2,436.0 219.1,428.5 226.7,429.7" fill="#fee090"/>
<polygon points="193.6,424.0 189.4,419.9 185.6,415.4 182.3,410.5 189.2,406.7 192.0,410.8 195.2,414.7 198.9,418.2" fill="#cfe8f3"/>
<polygon points="197.1,340.3 204.7,335.6 208.3,342.5 201.9,346.5" fill="#fdc97a"/>
<polygon points="230.5,337.2 235.0,337.4 239.5,338.0 238.0,345.6 234.3,345.1 230.5,344.9" fill="#ee6640"/>
<polygon points="248.2,340.5 252.3,342.3 256.3,344.5 252.0,351.0 248.7,349.2 245.3,347.7" fill="#313695"/>
<polygon points="256.3,344.5 260.0,347.1 263.4,350.0 257.9,355.6 255.1,353.1 252.0,351.0" fill="#cfe8f3"/>
<polygon points="269.3,356.6 271.8,360.3 273.9,364.3 266.6,367.5 264.9,364.2 262.9,361.1" fill="#f67d4a"/>
<polygon points="273.9,364.3 275.5,368.3 276.8,372.6 269.1,374.4 268.0,370.9 266.6,367.5" fill="#fee090"/>
<polygon points="278.1,381.3 278.1,385.7 277.7,390.1 269.8,389.0 270.2,385.3 270.2,381.7" fill="#fee090"/>
<polygon points="260.0,419.9 256.3,422.5 252.3,424.7 248.7,417.8 252.0,416.0 255.1,413.9" fill="#fee090"/>
<polygon points="252.3,424.7 248.2,426.5 243.9,428.0 241.7,420.5 245.3,419.3 248.7,417.8" fill="#ee6640"/>
<polygon points="243.9,428.0 239.5,429.0 235.0,429.6 234.3,421.9 238.0,421.4 241.7,420.5" fill="#f67d4a"/>
<polygon points="226.0,429.6 221.5,429.0 217.1,428.0 219.3,420.5 223.0,421.4 226.7,421.9" fill="#f67d4a"/>
<polygon points="217.1,428.0 212.8,426.5 208.7,424.7 212.3,417.8 215.7,419.3 219.3,420.5" fill="#8fc1dd"/>
<polygon points="185.5,398.7 184.2,394.4 183.3,390.1 191.2,389.0 191.9,392.6 193.0,396.1" fill="#fee090"/>
<polygon points="187.1,364.3 189.2,360.3 191.7,356.6 198.1,361.1 196.1,364.2 194.4,367.5" fill="#ee6640"/>
<polygon points="191.7,356.6 194.5,353.2 197.6,350.0 203.1,355.6 200.5,358.2 198.1,361.1" fill="#f67d4a"/>
<polygon points="212.8,340.5 217.1,339.0 221.5,338.0 223.0,345.6 219.3,346.5 215.7,347.7" fill="#fdc97a"/>
<polygon points="221.5,338.0 226.0,337.4 230.5,337.2 230.5,344.9 226.7,345.1 223.0,345.6" fill="#fdae61"/>
<polygon points="239.3,345.9 243.6,347.1 247.7,348.7 244.3,355.7 241.0,354.3 237.6,353.4" fill="#abd9e9"/>
<polygon points="255.3,353.3 258.6,356.2 261.6,359.4 255.3,364.2 253.0,361.7 250.3,359.4" fill="#fdae61"/>
<polygon points="261.6,359.4 264.1,363.0 266.3,366.7 259.1,370.1 257.4,367.1 255.3,364.2" fill="#f67d4a"/>
<polygon points="266.3,366.7 268.0,370.7 269.2,374.9 261.5,376.6 260.5,373.3 259.1,370.1" fill="#abd9e9"/>
<polygon points="270.2,383.5 270.0,387.8 269.2,392.1 261.5,390.4 262.1,387.0 262.3,383.5" fill="#fee090"/>
<polygon points="269.2,392.1 268.0,396.3 266.3,400.3 259.1,396.9 260.5,393.7 261.5,390.4" fill="#fdae61"/>
<polygon points="266.3,400.3 264.1,404.0 261.6,407.6 255.3,402.8 257.4,399.9 259.1,396.9" fill="#ee6640"/>
<polygon points="261.6,407.6 258.6,410.8 255.3,413.7 250.3,407.6 253.0,405.3 255.3,402.8" fill="#f5e8b8"/>
<polygon points="247.7,418.3 243.6,419.9 239.3,421.1 237.6,413.6 241.0,412.7 244.3,411.3" fill="#ee6640"/>
<polygon points="221.7,421.1 217.4,419.9 213.3,418.3 216.7,411.3 220.0,412.7 223.4,413.6" fill="#f5e8b8"/>
<polygon points="205.7,413.7 203.0,411.4 200.6,408.9 198.4,406.2 196.4,403.3 194.7,400.3 201.9,396.9 203.2,399.3 204.8,401.7 206.6,403.8 208.5,405.8 210.7,407.6" fill="#f67d4a"/>
<polygon points="191.8,392.1 191.0,387.8 190.8,383.5 198.7,383.5 198.9,387.0 199.5,390.4" fill="#ee6640"/>
<polygon points="190.8,383.5 191.0,379.2 191.8,374.9 199.5,376.6 198.9,380.0 198.7,383.5" fill="#fee090"/>
<polygon points="191.8,374.9 193.0,370.7 194.7,366.7 201.9,370.1 200.5,373.3 199.5,376.6" fill="#f67d4a"/>
<polygon points="199.4,359.4 202.0,356.6 204.8,354.1 207.8,351.8 211.0,349.9 214.4,348.2 218.0,346.9 221.7,345.9 223.4,353.4 220.5,354.2 217.6,355.3 214.9,356.6 212.3,358.2 209.9,360.0 207.7,362.0 205.7,364.2" fill="#ee6640"/>
<polygon points="221.7,345.9 226.1,345.1 230.5,344.9 230.5,352.6 226.9,352.8 223.4,353.4" fill="#fdae61"/>
<polygon points="230.5,352.6 233.5,352.8 236.5,353.2 239.5,353.9 237.2,361.3 235.0,360.8 232.8,360.4 230.5,360.3" fill="#cfe8f3"/>
<polygon points="239.5,353.9 242.3,354.8 245.1,356.0 247.7,357.5 250.1,359.2 252.4,361.1 254.5,363.3 248.5,368.3 246.9,366.7 245.2,365.3 243.4,364.0 241.4,362.9 239.4,362.0 237.2,361.3" fill="#ee6640"/>
<polygon points="254.5,363.3 256.4,365.6 258.0,368.1 259.4,370.7 252.2,373.9 251.1,371.9 249.9,370.1 248.5,368.3" fill="#f67d4a"/>
<polygon points="259.4,370.7 260.5,373.4 261.4,376.2 262.0,379.1 254.1,380.2 253.7,378.0 253.0,375.9 252.2,373.9" fill="#f5e8b8"/>
<polygon points="262.0,379.1 262.2,382.0 262.2,385.0 262.0,387.9 254.1,386.8 254.3,384.6 254.3,382.4 254.1,380.2" fill="#cfe8f3"/>
<polygon points="259.4,396.3 258.0,398.9 256.4,401.4 254.5,403.7 248.5,398.7 249.9,396.9 251.1,395.1 252.2,393.1" fill="#cfe8f3"/>
<polygon points="254.5,403.7 252.4,405.9 250.1,407.8 247.7,409.5 243.4,403.0 245.2,401.7 246.9,400.3 248.5,398.7" fill="#f5e8b8"/>
<polygon points="247.7,409.5 245.1,411.0 242.3,412.2 239.5,413.1 237.2,405.7 239.4,405.0 241.4,404.1 243.4,403.0" fill="#f67d4a"/>
<polygon points="206.5,403.7 204.6,401.4 203.0,398.9 201.6,396.3 208.8,393.1 209.9,395.1 211.1,396.9 212.5,398.7" fill="#ee6640"/>
<polygon points="199.0,387.9 198.8,385.0 198.8,382.0 199.0,379.1 206.9,380.2 206.7,382.4 206.7,384.6 206.9,386.8" fill="#fdae61"/>
<polygon points="199.0,379.1 199.6,376.2 200.5,373.4 201.6,370.7 208.8,373.9 208.0,375.9 207.3,378.0 206.9,380.2" fill="#fee090"/>
<polygon points="201.6,370.7 203.0,368.1 204.6,365.6 206.5,363.3 212.5,368.3 211.1,370.1 209.9,371.9 208.8,373.9" fill="#fdae61"/>
<polygon points="230.5,360.3 232.8,360.4 235.1,360.8 237.4,361.3 239.6,362.1 236.6,369.2 235.1,368.7 233.6,368.4 232.1,368.1 230.5,368.1" fill="#8fc1dd"/>
<polygon points="239.6,362.1 241.7,363.1 243.7,364.2 245.6,365.6 247.4,367.1 241.7,372.6 240.6,371.6 239.3,370.7 238.0,369.9 236.6,369.2" fill="#f67d4a"/>
<polygon points="252.5,374.6 253.3,376.8 253.9,379.0 254.2,381.2 254.3,383.5 246.4,383.5 246.3,382.0 246.1,380.5 245.7,379.0 245.2,377.6" fill="#f67d4a"/>
<polygon points="247.4,399.9 245.6,401.4 243.7,402.8 241.7,403.9 239.6,404.9 236.6,397.8 238.0,397.1 239.3,396.3 240.6,395.4 241.7,394.4" fill="#fdae61"/>
<polygon points="213.6,399.9 212.1,398.2 210.7,396.4 209.5,394.4 208.5,392.4 215.8,389.4 216.5,390.8 217.3,392.1 218.2,393.3 219.3,394.4" fill="#e6f0e4"/>
<polygon points="208.5,374.6 209.5,372.6 210.7,370.6 212.1,368.8 213.6,367.1 219.3,372.6 218.2,373.7 217.3,374.9 216.5,376.2 215.8,377.6" fill="#cfe8f3"/>
<polygon points="221.4,362.1 223.6,361.3 225.9,360.8 228.2,360.4 230.5,360.3 230.5,368.1 228.9,368.1 227.4,368.4 225.9,368.7 224.4,369.2" fill="#f5e8b8"/>
<polygon points="230.5,368.1 231.9,368.1 233.3,368.3 234.6,368.6 235.9,369.0 237.2,369.5 238.4,370.1 239.6,370.8 240.7,371.7 241.7,372.6 242.7,373.6 243.5,374.6 244.3,375.8 244.9,377.0 245.4,378.2 245.8,379.5 246.1,380.8 238.3,382.2 238.2,381.5 238.0,380.9 237.7,380.2 237.4,379.6 237.0,379.1 236.6,378.5 236.1,378.0 235.6,377.6 235.1,377.2 234.5,376.8 233.9,376.5 233.2,376.2 232.6,376.0 231.9,375.9 231.2,375.8 230.5,375.8" fill="#fdae61"/>
<polygon points="244.3,391.2 243.5,392.4 242.7,393.4 241.7,394.4 240.7,395.3 239.6,396.2 238.4,396.9 237.2,397.5 235.9,398.0 233.2,390.8 233.9,390.5 234.5,390.2 235.1,389.8 235.6,389.4 236.1,389.0 236.6,388.5 237.0,387.9 237.4,387.4" fill="#f67d4a"/>
<polygon points="225.1,398.0 223.8,397.5 222.6,396.9 221.4,396.2 220.3,395.3 219.3,394.4 218.3,393.4 217.5,392.4 216.7,391.2 223.6,387.4 224.0,387.9 224.4,388.5 224.9,389.0 225.4,389.4 225.9,389.8 226.5,390.2 227.1,390.5 227.8,390.8" fill="#fdae61"/>
<polygon points="216.7,391.2 216.1,390.0 215.6,388.8 215.2,387.5 214.9,386.2 214.7,384.8 214.6,383.5 214.7,382.2 214.9,380.8 222.7,382.2 222.6,382.8 222.6,383.5 222.6,384.2 222.7,384.8 222.8,385.5 223.0,386.1 223.3,386.8 223.6,387.4" fill="#fee090"/>
<polygon points="214.9,380.8 215.2,379.5 215.6,378.2 216.1,377.0 216.7,375.8 217.5,374.6 218.3,373.6 219.3,372.6 220.3,371.7 225.4,377.6 224.9,378.0 224.4,378.5 224.0,379.1 223.6,379.6 223.3,380.2 223.0,380.9 222.8,381.5 222.7,382.2" fill="#e6f0e4"/>
</g>
<g fill="none" stroke="#fbf7b8" stroke-width="1" shape-rendering="crispEdges">
<ellipse cx="230.5" cy="383.5" rx="47.7" ry="46.3"/>
<ellipse cx="230.5" cy="383.5" rx="95.3" ry="92.7"/>
<ellipse cx="230.5" cy="383.5" rx="143.0" ry="139.0"/>
<line x1="230.5" y1="244.5" x2="230.5" y2="522.5"/>
<line x1="331.6" y1="285.2" x2="129.4" y2="481.8"/>
<line x1="373.5" y1="383.5" x2="87.5" y2="383.5"/>
<line x1="331.6" y1="481.8" x2="129.4" y2="285.2"/>
</g>
<defs><clipPath id="skyclip"><rect x="0" y="230" width="512" height="310"/></clipPath></defs>
<path d="M238.0 245.5h7M241.5 242.0v7M204.0 252.5h7M207.5 249.0v7M207.0 259.5h7M210.5 256.0v7M237.0 262.5h7M240.5 259.0v7M189.0 274.5h7M192.5 271.0v7M196.0 270.5h7M199.5 267.0v7M158.0 278.5h7M161.5 275.0v7M259.0 282.5h7M262.5 279.0v7M207.0 290.5h7M210.5 287.0v7M218.0 296.5h7M221.5 293.0v7M186.0 298.5h7M189.5 295.0v7M140.0 299.5h7M143.5 296.0v7M195.0 312.5h7M198.5 309.0v7M204.0 319.5h7M207.5 316.0v7M209.0 316.5h7M212.5 313.0v7M213.0 316.5h7M216.5 313.0v7M243.0 312.5h7M246.5 309.0v7M243.0 316.5h7M246.5 313.0v7M278.0 318.5h7M281.5 315.0v7M290.0 319.5h7M293.5 316.0v7M316.0 324.5h7M319.5 321.0v7M351.0 336.5h7M354.5 333.0v7M129.0 323.5h7M132.5 320.0v7M148.0 333.5h7M151.5 330.0v7M179.0 328.5h7M182.5 325.0v7M99.0 334.5h7M102.5 331.0v7M117.0 337.5h7M120.5 334.0v7M119.0 344.5h7M122.5 341.0v7M112.0 350.5h7M115.5 347.0v7M113.0 355.5h7M116.5 352.0v7M127.0 362.5h7M130.5 359.0v7M98.0 365.5h7M101.5 362.0v7M106.0 364.5h7M109.5 361.0v7M126.0 382.5h7M129.5 379.0v7M159.0 372.5h7M162.5 369.0v7M146.0 391.5h7M149.5 388.0v7M107.0 396.5h7M110.5 393.0v7M99.0 402.5h7M102.5 399.0v7M117.0 406.5h7M120.5 403.0v7M128.0 411.5h7M131.5 408.0v7M148.0 403.5h7M151.5 400.0v7M165.0 407.5h7M168.5 404.0v7M186.0 396.5h7M189.5 393.0v7M140.0 424.5h7M143.5 421.0v7M133.0 434.5h7M136.5 431.0v7M160.0 434.5h7M163.5 431.0v7M174.0 433.5h7M177.5 430.0v7M187.0 431.5h7M190.5 428.0v7M197.0 439.5h7M200.5 436.0v7M208.0 425.5h7M211.5 422.0v7M235.0 414.5h7M238.5 411.0v7M144.0 451.5h7M147.5 448.0v7M143.0 455.5h7M146.5 452.0v7M159.0 453.5h7M162.5 450.0v7M146.0 473.5h7M149.5 470.0v7M145.0 492.5h7M148.5 489.0v7M170.0 489.5h7M173.5 486.0v7M201.0 515.5h7M204.5 512.0v7M282.0 504.5h7M285.5 501.0v7M314.0 469.5h7M317.5 466.0v7M304.0 461.5h7M307.5 458.0v7M282.0 449.5h7M285.5 446.0v7M304.0 425.5h7M307.5 422.0v7M297.0 421.5h7M300.5 418.0v7M318.0 420.5h7M321.5 417.0v7M326.0 403.5h7M329.5 400.0v7M294.0 407.5h7M297.5 404.0v7M270.0 411.5h7M273.5 408.0v7M287.0 390.5h7M290.5 387.0v7M349.0 394.5h7M352.5 391.0v7M349.0 389.5h7M352.5 386.0v7M312.0 370.5h7M315.5 367.0v7" stroke="#00ff00" stroke-width="1" fill="none" shape-rendering="crispEdges"/>
<g clip-path="url(#skyclip)" class="sat" text-anchor="middle">
<text x="241.8" y="237.8">R01</text><text x="207.0" y="243.2">E01</text><text x="210.2" y="250.7">J195</text><text x="240.5" y="253.7">C27</text><text x="192.6" y="265.7">C10</text><text x="199.6" y="261.7">G19</text><text x="161.4" y="270.1">C07</text><text x="262.4" y="273.6">G09</text><text x="210.5" y="281.7">E31</text><text x="221.6" y="287.2">G17</text><text x="189.9" y="290.0">C32</text><text x="143.5" y="290.6">C38</text><text x="198.3" y="303.5">R02</text><text x="207.5" y="310.6">C60</text><text x="212.9" y="307.7">E33</text><text x="216.8" y="307.7">E04</text><text x="246.5" y="303.8">C04</text><text x="246.5" y="307.7">E02</text><text x="281.7" y="309.8">J183</text><text x="293.4" y="310.5">C28</text><text x="319.5" y="315.7">R23</text><text x="354.6" y="327.5">G01</text><text x="132.2" y="314.3">C08</text><text x="151.5" y="324.6">C03</text><text x="182.7" y="319.7">J199</text><text x="102.6" y="325.2">G20</text><text x="120.4" y="328.2">C21</text><text x="122.2" y="335.8">C13</text><text x="115.2" y="341.7">J200</text><text x="116.6" y="346.9">E14</text><text x="130.6" y="353.6">C56</text><text x="101.4" y="356.5">C60</text><text x="109.3" y="355.9">G02</text><text x="129.8" y="373.6">E12</text><text x="162.6" y="364.0">G22</text><text x="149.7" y="382.2">C20</text><text x="110.0" y="387.2">R14</text><text x="102.3" y="393.9">G05</text><text x="120.8" y="397.5">C16</text><text x="131.8" y="402.8">E19</text><text x="151.7" y="394.6">E20</text><text x="168.5" y="398.6">R03</text><text x="189.6" y="387.7">G14</text><text x="143.3" y="416.0">C48</text><text x="136.8" y="425.7">C09</text><text x="163.8" y="425.2">C06</text><text x="177.8" y="424.3">G16</text><text x="190.3" y="422.6">C39</text><text x="200.7" y="431.0">R13</text><text x="211.5" y="416.4">C37</text><text x="238.5" y="405.7">G30</text><text x="147.2" y="442.7">E10</text><text x="146.6" y="446.2">E11</text><text x="162.4" y="444.3">G13</text><text x="149.3" y="464.2">C19</text><text x="148.7" y="483.5">G15</text><text x="173.9" y="480.6">R04</text><text x="204.7" y="506.2">E36</text><text x="285.5" y="495.2">R21</text><text x="317.5" y="460.5">C11</text><text x="307.2" y="453.1">G08</text><text x="285.7" y="440.8">C12</text><text x="307.5" y="416.8">E21</text><text x="300.5" y="412.8">C24</text><text x="321.6" y="411.7">C45</text><text x="329.8" y="394.4">R22</text><text x="297.8" y="398.2">E23</text><text x="273.2" y="402.7">E07</text><text x="290.2" y="381.7">G06</text><text x="352.5" y="386.0">G02</text><text x="352.3" y="380.2">E08</text><text x="315.8" y="361.7">C49</text>
</g>
<g stroke="#ffa500" fill="none" stroke-linecap="butt">
<polyline points="168,376.2 200,380.5 230.5,383.5 260,391.5 289,400.5" stroke-width="1" shape-rendering="crispEdges"/>
<line x1="304.4" y1="354" x2="277.6" y2="442.5" stroke-width="6.3"/>
<line x1="304.5" y1="465.5" x2="313" y2="473" stroke-width="5"/>
</g>
<circle cx="187.7" cy="287.3" r="3.6" fill="#ffa500"/><circle cx="167.9" cy="376.2" r="3.2" fill="#ffa500"/>
</g>
<g id="waterfall">
<path class="ax" d="M511.5 461.5L666.5 381.5L933.5 427.5"/>
<path class="ax" d="M533.6 450.1h5M555.8 438.6h5M577.9 427.2h5M600.1 415.8h5M622.2 404.4h5M644.4 392.9h5M933.5 427.5l-4.5 2.3M889.0 419.8l-4.5 2.3M844.5 412.2l-4.5 2.3M800.0 404.5l-4.5 2.3M755.5 396.8l-4.5 2.3M711.0 389.2l-4.5 2.3M666.5 381.5l-4.5 2.3"/>
<defs>
<clipPath id="wfclip"><path d="M544 413V413h1V410h1V411h1V411h1V411h1V410h1V409h1V408h1V406h1V406h1V402h1V402h1V405h1V404h1V404h1V400h1V400h1V399h1V395h1V390h1V381h1V374h1V373h1V368h1V362h1V357h1V358h1V356h1V354h1V350h1V347h1V348h1V348h1V345h1V348h1V348h1V345h1V343h1V346h1V346h1V345h1V345h1V344h1V343h1V343h1V341h1V338h1V340h1V340h1V335h1V339h1V338h1V336h1V338h1V337h1V332h1V336h1V334h1V331h1V331h1V333h1V333h1V332h1V331h1V330h1V330h1V329h1V328h1V326h1V328h1V327h1V324h1V327h1V327h1V326h1V323h1V327h1V326h1V325h1V325h1V321h1V324h1V324h1V323h1V322h1V319h1V318h1V318h1V321h1V321h1V321h1V320h1V315h1V315h1V314h1V318h1V317h1V315h1V312h1V313h1V315h1V310h1V311h1V313h1V313h1V308h1V313h1V310h1V313h1V308h1V312h1V307h1V313h1V314h1V310h1V314h1V314h1V310h1V314h1V313h1V313h1V312h1V312h1V310h1V311h1V310h1V310h1V310h1V311h1V310h1V307h1V310h1V309h1V310h1V310h1V307h1V309h1V306h1V309h1V310h1V311h1V311h1V309h1V307h1V310h1V307h1V311h1V311h1V311h1V308h1V311h1V309h1V308h1V313h1V314h1V310h1V315h1V315h1V315h1V313h1V314h1V316h1V313h1V316h1V312h1V315h1V316h1V315h1V315h1V312h1V315h1V314h1V315h1V313h1V315h1V313h1V315h1V316h1V315h1V314h1V317h1V319h1V321h1V323h1V323h1V320h1V323h1V323h1V323h1V320h1V323h1V319h1V320h1V323h1V323h1V321h1V323h1V321h1V323h1V323h1V323h1V323h1V323h1V319h1V325h1V327h1V329h1V329h1V324h1V329h1V329h1V329h1V328h1V329h1V329h1V329h1V329h1V330h1V331h1V330h1V330h1V332h1V328h1V330h1V333h1V328h1V330h1V333h1V332h1V329h1V331h1V330h1V332h1V333h1V333h1V331h1V331h1V332h1V329h1V332h1V331h1V330h1V333h1V331h1V331h1V334h1V334h1V331h1V333h1V335h1V332h1V334h1V335h1V333h1V333h1V335h1V335h1V332h1V331h1V336h1V332h1V335h1V336h1V336h1V336h1V331h1V332h1V332h1V336h1V335h1V336h1V335h1V336h1V336h1V336h1V332h1V331h1V332h1V336h1V331h1V336h1V336h1V336h1V336h1V336h1V335h1V336h1V332h1V334h1V331h1V333h1V333h1V333h1V336h1V332h1V336h1V336h1V331h1V334h1V335h1V336h1V336h1V336h1V332h1V336h1V336h1V336h1V336h1V335h1V333h1V336h1V338h1V341h1V338h1V345h1V343h1V347h1V348h1V345h1V345h1V350h1V345h1V348h1V349h1V346h1V345h1V350h1V349h1V345h1V347h1V349h1V350h1V349h1V347h1V350h1V347h1V350h1V349h1V351h1V352h1V357h1V355h1V359h1V364h1V359h1V364h1V364h1V364h1V362h1V365h1V365h1V363h1V362h1V365h1V361h1V362h1V367h1V371h1V374h1V378h1V377h1V380h1V380h1V381h1V383h1V382h1V386h1V385h1V390h1V387h1V387h1V389h1V389h1V390h1V389h1V392h1V399h1V395h1V399h1V398h1V399h1V399h1V410h1V411h-1V407h-1V408h-1V414h-1V408h-1V409h-1V414h-1V409h-1V409h-1V410h-1V409h-1V410h-1V410h-1V409h-1V415h-1V409h-1V415h-1V414h-1V409h-1V409h-1V416h-1V410h-1V416h-1V411h-1V411h-1V418h-1V416h-1V413h-1V413h-1V413h-1V418h-1V414h-1V412h-1V407h-1V409h-1V399h-1V399h-1V392h-1V395h-1V391h-1V391h-1V393h-1V390h-1V389h-1V389h-1V391h-1V388h-1V391h-1V387h-1V388h-1V394h-1V393h-1V390h-1V393h-1V393h-1V393h-1V390h-1V391h-1V396h-1V397h-1V391h-1V391h-1V394h-1V390h-1V395h-1V391h-1V391h-1V391h-1V394h-1V391h-1V392h-1V392h-1V394h-1V393h-1V399h-1V394h-1V394h-1V395h-1V396h-1V403h-1V397h-1V403h-1V398h-1V399h-1V399h-1V399h-1V404h-1V401h-1V401h-1V401h-1V405h-1V403h-1V403h-1V405h-1V410h-1V409h-1V411h-1V406h-1V406h-1V413h-1V412h-1V408h-1V409h-1V411h-1V410h-1V410h-1V414h-1V411h-1V415h-1V417h-1V414h-1V415h-1V417h-1V418h-1V427h-1V429h-1V431h-1V435h-1V444h-1V452h-1V463h-1V459h-1V466h-1V461h-1V468h-1V463h-1V465h-1V466h-1V467h-1V471h-1V468h-1V469h-1V470h-1V471h-1V472h-1V476h-1V479h-1V478h-1V483h-1V475h-1V474h-1V473h-1V472h-1V473h-1V475h-1V470h-1V473h-1V471h-1V473h-1V467h-1V465h-1V466h-1V467h-1V465h-1V465h-1V461h-1V464h-1V462h-1V464h-1V461h-1V458h-1V458h-1V463h-1V461h-1V459h-1V457h-1V457h-1V457h-1V456h-1V457h-1V455h-1V453h-1V452h-1V456h-1V453h-1V458h-1V453h-1V454h-1V454h-1V458h-1V457h-1V447h-1V448h-1V442h-1V439h-1V442h-1V445h-1V446h-1V442h-1V445h-1V441h-1V441h-1V442h-1V443h-1V442h-1V442h-1V442h-1V442h-1V443h-1V443h-1V443h-1V443h-1V443h-1V449h-1V443h-1V448h-1V448h-1V448h-1V450h-1V444h-1V444h-1V448h-1V451h-1V446h-1V452h-1V446h-1V451h-1V447h-1V454h-1V454h-1V449h-1V449h-1V449h-1V447h-1V447h-1V447h-1V446h-1V450h-1V445h-1V451h-1V451h-1V445h-1V448h-1V450h-1V448h-1V445h-1V445h-1V445h-1V451h-1V445h-1V451h-1V452h-1V447h-1V449h-1V448h-1V447h-1V451h-1V448h-1V448h-1V450h-1V452h-1V450h-1V450h-1V449h-1V454h-1V449h-1V449h-1V451h-1V457h-1V458h-1V454h-1V461h-1V457h-1V460h-1V459h-1V458h-1V463h-1V464h-1V460h-1V455h-1V455h-1V453h-1V453h-1V449h-1V442h-1V439h-1V442h-1V435h-1V439h-1V439h-1V435h-1V439h-1V437h-1V438h-1V434h-1V440h-1V434h-1V435h-1V435h-1V442h-1V436h-1V439h-1V435h-1V435h-1V437h-1V439h-1V440h-1V442h-1V435h-1V439h-1V439h-1V435h-1V439h-1V442h-1V435h-1V435h-1V441h-1V435h-1V434h-1V431h-1V429h-1V433h-1V427h-1V427h-1V427h-1V432h-1V427h-1V427h-1V427h-1V427h-1V427h-1V430h-1V428h-1V432h-1V432h-1V427h-1V430h-1V431h-1V430h-1V428h-1V428h-1V428h-1V428h-1V428h-1V434h-1V427h-1V431h-1V430h-1V423h-1V427h-1V422h-1V426h-1V422h-1V422h-1V425h-1V422h-1V429h-1V426h-1V426h-1V429h-1V424h-1V426h-1V424h-1V427h-1V428h-1V426h-1V430h-1V426h-1V427h-1V433h-1V431h-1V433h-1V430h-1V432h-1V428h-1V425h-1V425h-1V426h-1V428h-1V430h-1V426h-1V426h-1V426h-1V427h-1V433h-1V427h-1V432h-1V427h-1V424h-1V422h-1V418h-1V414h-1V414h-1z"/></clipPath>
<linearGradient id="wfg" gradientUnits="userSpaceOnUse" x1="680.0" y1="300.0" x2="648.6" y2="484.7">
<stop offset="0.032" stop-color="#e9f2f0"/><stop offset="0.074" stop-color="#f6f3e2"/><stop offset="0.137" stop-color="#f9f2dc"/><stop offset="0.232" stop-color="#f4f2e4"/><stop offset="0.316" stop-color="#e4f1f4"/><stop offset="0.421" stop-color="#d5e9f2"/><stop offset="0.526" stop-color="#c0ddec"/><stop offset="0.632" stop-color="#a9d0e6"/><stop offset="0.737" stop-color="#93c0de"/><stop offset="0.832" stop-color="#7dafd5"/><stop offset="0.937" stop-color="#6596c8"/>
</linearGradient>
<filter id="bl6" x="-30%" y="-30%" width="160%" height="160%"><feGaussianBlur stdDeviation="5"/></filter>
<filter id="bl3" x="-30%" y="-30%" width="160%" height="160%"><feGaussianBlur stdDeviation="3"/></filter>
</defs>
<g clip-path="url(#wfclip)" shape-rendering="crispEdges">
<rect x="530" y="295" width="410" height="200" fill="#e7f2f3"/>
<path fill="#e1f0f4" d="M542 389h2V387h2V382h2V380h2V379h2V375h2V374h2V372h2V366h2V362h2V361h2V357h2V353h2V350h2V345h2V344h2V344h2V347h2V349h2V351h2V352h2V349h2V348h2V349h2V352h2V353h2V353h2V351h2V352h2V353h2V355h2V354h2V355h2V358h2V359h2V359h2V358h2V358h2V358h2V359h2V360h2V360h2V360h2V362h2V362h2V358h2V359h2V359h2V360h2V362h2V361h2V363h2V361h2V356h2V355h2V357h2V357h2V358h2V355h2V356h2V356h2V358h2V360h2V360h2V361h2V359h2V361h2V359h2V361h2V361h2V364h2V363h2V363h2V362h2V363h2V365h2V367h2V367h2V366h2V371h2V370h2V369h2V372h2V371h2V375h2V372h2V372h2V375h2V376h2V379h2V375h2V375h2V375h2V374h2V378h2V379h2V379h2V379h2V379h2V379h2V379h2V379h2V381h2V377h2V377h2V378h2V376h2V377h2V376h2V375h2V376h2V376h2V378h2V377h2V374h2V374h2V377h2V375h2V376h2V375h2V378h2V378h2V375h2V375h2V376h2V376h2V378h2V373h2V372h2V373h2V373h2V373h2V371h2V373h2V370h2V369h2V369h2V368h2V369h2V371h2V368h2V367h2V368h2V364h2V364h2V365h2V365h2V366h2V364h2V365h2V365h2V361h2V361h2V363h2V362h2V362h2V359h2V358h2V356h2V355h2V351h2V349h2V348h2V349h2V347h2V345h2V345h2V345h2V345h2V344h2V347h2V350h2V348h2V346h2V349h2V349h2V351h2V352h2V355h2V353h2V357h2V357h2V357h2V362h2V365h2V365h2V365h2V367h2V371h2V373h2V372h2V376h2V377h2V379h2V376h2V500H540z"/>
<path fill="#dfeff5" d="M542 392h2V390h2V386h2V381h2V382h2V377h2V375h2V375h2V369h2V364h2V364h2V361h2V354h2V353h2V348h2V348h2V346h2V350h2V352h2V352h2V354h2V352h2V350h2V353h2V355h2V356h2V355h2V356h2V355h2V355h2V358h2V356h2V360h2V361h2V362h2V363h2V361h2V361h2V360h2V361h2V364h2V362h2V360h2V364h2V364h2V362h2V359h2V361h2V360h2V363h2V366h2V367h2V363h2V361h2V359h2V359h2V360h2V359h2V360h2V358h2V360h2V362h2V362h2V364h2V365h2V364h2V365h2V364h2V367h2V365h2V368h2V367h2V365h2V366h2V366h2V371h2V370h2V371h2V371h2V373h2V375h2V372h2V376h2V375h2V377h2V375h2V377h2V380h2V379h2V382h2V379h2V380h2V377h2V378h2V382h2V384h2V384h2V384h2V384h2V382h2V382h2V383h2V384h2V382h2V381h2V383h2V382h2V382h2V380h2V379h2V379h2V381h2V383h2V380h2V380h2V378h2V381h2V380h2V381h2V380h2V382h2V383h2V379h2V379h2V380h2V381h2V381h2V378h2V376h2V377h2V376h2V376h2V375h2V377h2V373h2V374h2V373h2V372h2V372h2V374h2V372h2V369h2V370h2V368h2V367h2V370h2V368h2V369h2V368h2V370h2V369h2V366h2V364h2V365h2V368h2V368h2V362h2V363h2V358h2V358h2V356h2V353h2V352h2V352h2V347h2V347h2V345h2V347h2V345h2V343h2V348h2V352h2V351h2V348h2V352h2V351h2V353h2V355h2V356h2V355h2V359h2V358h2V360h2V364h2V367h2V366h2V368h2V370h2V373h2V374h2V375h2V377h2V380h2V382h2V378h2V500H540z"/>
<path fill="#dceef5" d="M542 394h2V389h2V387h2V384h2V384h2V379h2V377h2V376h2V371h2V366h2V365h2V362h2V357h2V354h2V350h2V350h2V348h2V351h2V356h2V354h2V357h2V353h2V354h2V356h2V358h2V360h2V359h2V358h2V359h2V360h2V363h2V361h2V362h2V363h2V366h2V365h2V365h2V363h2V363h2V362h2V366h2V363h2V362h2V365h2V364h2V362h2V362h2V364h2V364h2V366h2V367h2V368h2V366h2V364h2V362h2V362h2V365h2V364h2V362h2V362h2V365h2V367h2V368h2V369h2V369h2V366h2V371h2V368h2V370h2V370h2V372h2V370h2V369h2V370h2V369h2V375h2V374h2V375h2V374h2V378h2V377h2V376h2V378h2V379h2V383h2V379h2V380h2V382h2V384h2V386h2V383h2V383h2V382h2V383h2V388h2V386h2V389h2V388h2V389h2V386h2V386h2V387h2V388h2V384h2V387h2V387h2V384h2V384h2V383h2V383h2V384h2V385h2V385h2V386h2V384h2V383h2V386h2V384h2V385h2V384h2V387h2V387h2V385h2V382h2V384h2V384h2V385h2V381h2V381h2V382h2V380h2V378h2V377h2V380h2V377h2V377h2V375h2V375h2V376h2V377h2V376h2V372h2V375h2V372h2V370h2V374h2V374h2V374h2V373h2V376h2V372h2V372h2V370h2V370h2V372h2V372h2V368h2V365h2V364h2V361h2V358h2V356h2V353h2V355h2V350h2V348h2V349h2V349h2V347h2V346h2V351h2V352h2V352h2V350h2V354h2V354h2V355h2V357h2V358h2V356h2V359h2V359h2V363h2V366h2V369h2V368h2V369h2V371h2V374h2V376h2V377h2V377h2V382h2V385h2V381h2V500H540z"/>
<path fill="#d2e8f2" d="M542 395h2V393h2V389h2V385h2V388h2V383h2V382h2V381h2V376h2V371h2V371h2V367h2V363h2V361h2V356h2V355h2V355h2V358h2V361h2V360h2V363h2V359h2V360h2V362h2V365h2V366h2V366h2V364h2V364h2V365h2V368h2V366h2V368h2V369h2V371h2V372h2V370h2V370h2V368h2V368h2V372h2V369h2V370h2V372h2V370h2V369h2V368h2V371h2V371h2V373h2V374h2V375h2V373h2V369h2V367h2V368h2V370h2V371h2V368h2V371h2V370h2V374h2V373h2V374h2V376h2V373h2V376h2V374h2V375h2V376h2V378h2V377h2V376h2V375h2V376h2V380h2V380h2V381h2V380h2V385h2V384h2V381h2V384h2V386h2V389h2V384h2V385h2V389h2V389h2V392h2V388h2V387h2V387h2V387h2V392h2V392h2V393h2V393h2V393h2V393h2V391h2V392h2V394h2V392h2V393h2V393h2V391h2V390h2V388h2V390h2V389h2V391h2V392h2V391h2V390h2V390h2V392h2V390h2V390h2V390h2V392h2V393h2V390h2V390h2V391h2V390h2V390h2V387h2V386h2V388h2V388h2V386h2V383h2V387h2V385h2V385h2V382h2V381h2V383h2V384h2V382h2V380h2V380h2V377h2V376h2V380h2V378h2V381h2V380h2V380h2V379h2V377h2V374h2V375h2V377h2V378h2V373h2V371h2V368h2V368h2V364h2V360h2V360h2V362h2V357h2V354h2V354h2V356h2V352h2V351h2V355h2V358h2V357h2V355h2V358h2V357h2V359h2V359h2V363h2V359h2V362h2V363h2V365h2V368h2V372h2V370h2V372h2V373h2V375h2V379h2V379h2V380h2V384h2V385h2V383h2V500H540z"/>
<path fill="#c9e2ef" d="M542 399h2V397h2V393h2V390h2V391h2V386h2V384h2V384h2V379h2V375h2V375h2V373h2V369h2V366h2V363h2V363h2V359h2V364h2V367h2V366h2V371h2V365h2V366h2V367h2V371h2V373h2V371h2V369h2V369h2V372h2V375h2V371h2V373h2V375h2V376h2V378h2V378h2V376h2V374h2V376h2V378h2V376h2V376h2V377h2V376h2V376h2V375h2V377h2V376h2V380h2V382h2V381h2V379h2V376h2V374h2V376h2V377h2V377h2V375h2V376h2V377h2V380h2V380h2V381h2V383h2V379h2V383h2V382h2V383h2V381h2V384h2V381h2V383h2V383h2V382h2V386h2V386h2V386h2V386h2V390h2V388h2V387h2V389h2V392h2V394h2V390h2V392h2V393h2V395h2V396h2V393h2V394h2V392h2V391h2V397h2V397h2V400h2V396h2V400h2V396h2V397h2V398h2V399h2V396h2V397h2V397h2V395h2V396h2V396h2V395h2V395h2V395h2V397h2V397h2V393h2V396h2V397h2V397h2V395h2V396h2V398h2V398h2V395h2V396h2V396h2V396h2V397h2V395h2V392h2V394h2V392h2V391h2V391h2V393h2V390h2V389h2V387h2V388h2V389h2V390h2V387h2V385h2V387h2V385h2V382h2V385h2V384h2V387h2V384h2V387h2V384h2V383h2V379h2V382h2V383h2V383h2V377h2V378h2V374h2V373h2V368h2V366h2V367h2V366h2V361h2V360h2V360h2V360h2V359h2V357h2V361h2V362h2V362h2V360h2V363h2V361h2V364h2V364h2V366h2V361h2V367h2V367h2V367h2V372h2V375h2V374h2V373h2V377h2V378h2V380h2V380h2V382h2V386h2V387h2V384h2V500H540z"/>
<path fill="#bfdcec" d="M542 402h2V398h2V394h2V392h2V394h2V390h2V390h2V388h2V385h2V381h2V380h2V377h2V374h2V372h2V368h2V367h2V366h2V369h2V373h2V374h2V375h2V372h2V372h2V372h2V377h2V380h2V376h2V375h2V377h2V377h2V379h2V379h2V381h2V381h2V382h2V383h2V383h2V383h2V382h2V382h2V385h2V382h2V380h2V384h2V385h2V383h2V380h2V382h2V383h2V386h2V388h2V388h2V385h2V383h2V380h2V382h2V386h2V385h2V384h2V383h2V385h2V387h2V388h2V388h2V389h2V385h2V389h2V387h2V388h2V389h2V390h2V388h2V388h2V388h2V388h2V391h2V392h2V392h2V391h2V395h2V396h2V393h2V395h2V397h2V399h2V395h2V396h2V398h2V400h2V402h2V398h2V397h2V396h2V397h2V403h2V402h2V404h2V403h2V403h2V403h2V401h2V403h2V405h2V402h2V402h2V403h2V401h2V401h2V400h2V400h2V399h2V402h2V404h2V401h2V400h2V401h2V403h2V403h2V401h2V402h2V404h2V404h2V403h2V401h2V401h2V403h2V403h2V401h2V398h2V400h2V400h2V398h2V396h2V399h2V396h2V397h2V395h2V395h2V396h2V397h2V394h2V392h2V393h2V390h2V389h2V392h2V391h2V391h2V391h2V391h2V391h2V388h2V385h2V388h2V388h2V388h2V384h2V383h2V380h2V378h2V374h2V372h2V372h2V372h2V367h2V366h2V366h2V367h2V365h2V363h2V366h2V368h2V366h2V363h2V366h2V366h2V368h2V367h2V370h2V365h2V370h2V370h2V371h2V374h2V377h2V377h2V375h2V377h2V381h2V383h2V384h2V385h2V388h2V391h2V387h2V500H540z"/>
<path fill="#b0d3e7" d="M542 404h2V401h2V397h2V394h2V397h2V393h2V395h2V394h2V389h2V385h2V386h2V384h2V380h2V380h2V377h2V376h2V374h2V377h2V381h2V382h2V383h2V379h2V379h2V379h2V383h2V387h2V384h2V382h2V381h2V384h2V387h2V385h2V388h2V389h2V389h2V389h2V389h2V388h2V388h2V387h2V390h2V389h2V388h2V391h2V392h2V389h2V386h2V390h2V391h2V393h2V396h2V396h2V393h2V392h2V390h2V391h2V392h2V393h2V391h2V391h2V394h2V395h2V397h2V398h2V398h2V394h2V397h2V397h2V396h2V396h2V398h2V397h2V397h2V396h2V397h2V399h2V400h2V400h2V400h2V404h2V403h2V401h2V404h2V404h2V409h2V404h2V404h2V407h2V408h2V409h2V407h2V406h2V406h2V405h2V410h2V409h2V411h2V411h2V413h2V410h2V410h2V412h2V413h2V410h2V412h2V411h2V411h2V409h2V408h2V409h2V408h2V410h2V413h2V410h2V409h2V409h2V411h2V410h2V410h2V411h2V413h2V414h2V410h2V410h2V411h2V412h2V411h2V408h2V407h2V408h2V406h2V404h2V403h2V406h2V402h2V403h2V401h2V399h2V402h2V401h2V399h2V397h2V397h2V395h2V393h2V397h2V394h2V396h2V395h2V396h2V396h2V391h2V390h2V390h2V391h2V392h2V386h2V387h2V383h2V383h2V379h2V376h2V375h2V378h2V372h2V372h2V371h2V373h2V370h2V367h2V372h2V373h2V372h2V369h2V371h2V370h2V372h2V372h2V374h2V370h2V374h2V372h2V374h2V378h2V381h2V379h2V379h2V381h2V383h2V384h2V385h2V386h2V389h2V393h2V389h2V500H540z"/>
<path fill="#a2c9e3" d="M542 407h2V404h2V399h2V397h2V399h2V398h2V398h2V398h2V394h2V391h2V393h2V390h2V387h2V386h2V383h2V382h2V380h2V385h2V388h2V388h2V389h2V385h2V384h2V386h2V390h2V392h2V389h2V388h2V389h2V389h2V394h2V391h2V394h2V394h2V396h2V398h2V397h2V394h2V395h2V395h2V397h2V394h2V396h2V399h2V396h2V395h2V394h2V398h2V397h2V403h2V404h2V404h2V402h2V399h2V398h2V400h2V401h2V400h2V401h2V400h2V403h2V404h2V406h2V408h2V407h2V403h2V405h2V405h2V405h2V405h2V408h2V404h2V405h2V404h2V405h2V409h2V409h2V408h2V409h2V412h2V412h2V409h2V411h2V413h2V416h2V411h2V412h2V414h2V417h2V419h2V413h2V413h2V412h2V412h2V418h2V417h2V419h2V419h2V419h2V419h2V416h2V420h2V422h2V418h2V418h2V420h2V418h2V418h2V417h2V417h2V416h2V418h2V420h2V418h2V416h2V417h2V420h2V420h2V419h2V418h2V422h2V423h2V420h2V418h2V419h2V419h2V422h2V418h2V414h2V417h2V416h2V413h2V410h2V413h2V410h2V409h2V407h2V405h2V408h2V409h2V405h2V403h2V404h2V400h2V397h2V400h2V398h2V402h2V400h2V400h2V398h2V396h2V393h2V395h2V394h2V396h2V391h2V391h2V387h2V386h2V384h2V380h2V380h2V382h2V377h2V377h2V376h2V377h2V375h2V373h2V377h2V379h2V378h2V374h2V377h2V375h2V377h2V377h2V379h2V374h2V379h2V376h2V378h2V383h2V384h2V382h2V383h2V384h2V387h2V386h2V388h2V389h2V392h2V394h2V390h2V500H540z"/>
<path fill="#93c0de" d="M542 409h2V405h2V402h2V400h2V404h2V401h2V403h2V404h2V398h2V396h2V398h2V397h2V393h2V393h2V389h2V389h2V388h2V393h2V396h2V396h2V398h2V394h2V392h2V394h2V396h2V400h2V398h2V395h2V396h2V398h2V400h2V398h2V400h2V401h2V404h2V403h2V403h2V403h2V401h2V401h2V405h2V402h2V402h2V405h2V404h2V403h2V402h2V404h2V404h2V410h2V411h2V412h2V411h2V406h2V405h2V408h2V410h2V410h2V409h2V409h2V411h2V412h2V414h2V416h2V415h2V412h2V414h2V413h2V415h2V414h2V416h2V415h2V412h2V414h2V413h2V416h2V418h2V416h2V416h2V422h2V420h2V419h2V420h2V422h2V423h2V419h2V420h2V422h2V425h2V426h2V421h2V422h2V420h2V421h2V425h2V426h2V428h2V427h2V429h2V426h2V425h2V427h2V430h2V426h2V428h2V427h2V426h2V427h2V426h2V425h2V424h2V427h2V428h2V427h2V426h2V425h2V430h2V428h2V427h2V427h2V431h2V432h2V429h2V427h2V428h2V428h2V430h2V424h2V423h2V423h2V423h2V420h2V417h2V421h2V417h2V417h2V414h2V413h2V412h2V414h2V410h2V407h2V409h2V406h2V401h2V405h2V405h2V406h2V403h2V405h2V402h2V400h2V396h2V398h2V398h2V398h2V394h2V393h2V392h2V391h2V386h2V384h2V385h2V387h2V382h2V381h2V382h2V383h2V380h2V377h2V380h2V384h2V383h2V377h2V381h2V381h2V382h2V382h2V383h2V379h2V383h2V381h2V383h2V387h2V387h2V386h2V387h2V388h2V390h2V390h2V390h2V390h2V393h2V397h2V393h2V500H540z"/>
<path fill="#86b4d8" d="M542 414h2V410h2V406h2V405h2V409h2V406h2V408h2V409h2V406h2V403h2V404h2V404h2V400h2V402h2V398h2V397h2V395h2V399h2V403h2V402h2V404h2V402h2V400h2V401h2V405h2V407h2V405h2V402h2V403h2V404h2V409h2V406h2V409h2V409h2V412h2V412h2V411h2V409h2V410h2V411h2V412h2V411h2V409h2V414h2V411h2V411h2V411h2V413h2V413h2V417h2V420h2V423h2V420h2V417h2V416h2V418h2V421h2V422h2V421h2V420h2V423h2V425h2V426h2V426h2V428h2V424h2V426h2V424h2V425h2V425h2V428h2V425h2V425h2V423h2V423h2V428h2V429h2V427h2V427h2V431h2V429h2V428h2V430h2V432h2V434h2V430h2V430h2V432h2V434h2V435h2V432h2V430h2V430h2V427h2V434h2V435h2V436h2V434h2V436h2V435h2V434h2V435h2V440h2V435h2V436h2V437h2V435h2V436h2V434h2V433h2V435h2V436h2V439h2V437h2V435h2V435h2V439h2V439h2V437h2V437h2V441h2V442h2V438h2V436h2V439h2V439h2V439h2V434h2V433h2V432h2V432h2V427h2V425h2V428h2V424h2V424h2V421h2V418h2V421h2V421h2V416h2V413h2V415h2V413h2V408h2V411h2V411h2V411h2V410h2V411h2V409h2V404h2V402h2V403h2V403h2V406h2V398h2V400h2V396h2V396h2V392h2V391h2V389h2V392h2V387h2V387h2V388h2V389h2V384h2V382h2V386h2V389h2V386h2V383h2V387h2V386h2V387h2V389h2V388h2V385h2V387h2V387h2V388h2V390h2V393h2V391h2V389h2V390h2V393h2V394h2V391h2V393h2V397h2V399h2V395h2V500H540z"/>
<path fill="#79a9d1" d="M542 418h2V413h2V412h2V409h2V415h2V412h2V413h2V416h2V413h2V409h2V411h2V410h2V409h2V408h2V407h2V405h2V404h2V407h2V410h2V412h2V413h2V409h2V409h2V410h2V414h2V417h2V412h2V411h2V412h2V413h2V415h2V414h2V416h2V418h2V419h2V419h2V421h2V418h2V418h2V417h2V421h2V417h2V417h2V421h2V421h2V418h2V419h2V422h2V422h2V428h2V430h2V434h2V430h2V427h2V428h2V430h2V433h2V432h2V431h2V432h2V433h2V435h2V437h2V439h2V439h2V434h2V436h2V436h2V437h2V436h2V438h2V436h2V436h2V435h2V434h2V438h2V438h2V437h2V438h2V441h2V440h2V438h2V440h2V442h2V443h2V440h2V441h2V441h2V444h2V445h2V439h2V438h2V437h2V438h2V443h2V444h2V444h2V444h2V445h2V445h2V443h2V445h2V449h2V443h2V446h2V447h2V444h2V445h2V444h2V442h2V444h2V447h2V448h2V447h2V444h2V445h2V449h2V447h2V447h2V447h2V451h2V451h2V449h2V447h2V450h2V449h2V449h2V444h2V441h2V441h2V439h2V438h2V434h2V437h2V433h2V432h2V428h2V425h2V428h2V428h2V424h2V421h2V422h2V419h2V413h2V418h2V417h2V419h2V414h2V416h2V414h2V410h2V407h2V409h2V409h2V410h2V404h2V404h2V403h2V401h2V397h2V395h2V396h2V398h2V391h2V391h2V391h2V393h2V389h2V387h2V391h2V394h2V391h2V388h2V392h2V389h2V392h2V393h2V393h2V390h2V392h2V392h2V391h2V395h2V398h2V394h2V393h2V395h2V396h2V396h2V394h2V395h2V399h2V402h2V397h2V500H540z"/>
<path fill="#6c9dcb" d="M542 422h2V418h2V416h2V414h2V419h2V417h2V420h2V420h2V419h2V416h2V419h2V419h2V415h2V416h2V415h2V413h2V411h2V416h2V420h2V420h2V421h2V417h2V416h2V417h2V422h2V424h2V421h2V420h2V420h2V420h2V424h2V422h2V425h2V427h2V427h2V427h2V428h2V426h2V426h2V426h2V428h2V425h2V424h2V430h2V427h2V426h2V427h2V431h2V431h2V438h2V441h2V443h2V439h2V438h2V437h2V440h2V444h2V444h2V444h2V444h2V446h2V447h2V448h2V451h2V449h2V445h2V448h2V446h2V448h2V447h2V449h2V446h2V444h2V445h2V445h2V450h2V450h2V447h2V447h2V451h2V451h2V448h2V451h2V451h2V454h2V449h2V450h2V451h2V454h2V455h2V448h2V448h2V446h2V446h2V451h2V451h2V454h2V453h2V454h2V454h2V452h2V454h2V457h2V454h2V454h2V456h2V452h2V453h2V453h2V451h2V453h2V454h2V458h2V455h2V455h2V455h2V459h2V457h2V457h2V457h2V460h2V460h2V459h2V456h2V460h2V458h2V457h2V452h2V450h2V452h2V448h2V445h2V442h2V446h2V441h2V438h2V435h2V434h2V433h2V435h2V430h2V426h2V428h2V424h2V421h2V424h2V424h2V424h2V422h2V422h2V421h2V418h2V413h2V413h2V415h2V416h2V410h2V410h2V406h2V406h2V403h2V400h2V401h2V401h2V397h2V395h2V397h2V399h2V395h2V392h2V396h2V399h2V398h2V393h2V398h2V395h2V398h2V399h2V400h2V396h2V397h2V395h2V396h2V401h2V402h2V398h2V398h2V397h2V400h2V401h2V398h2V399h2V402h2V403h2V400h2V500H540z"/>
<path fill="#6495c7" d="M542 426h2V421h2V420h2V417h2V424h2V421h2V423h2V426h2V422h2V421h2V425h2V424h2V421h2V421h2V420h2V419h2V418h2V421h2V425h2V425h2V428h2V423h2V421h2V423h2V429h2V430h2V429h2V427h2V426h2V426h2V430h2V429h2V430h2V432h2V434h2V434h2V434h2V432h2V432h2V432h2V435h2V431h2V431h2V435h2V433h2V432h2V433h2V436h2V438h2V442h2V447h2V449h2V446h2V443h2V443h2V444h2V449h2V448h2V448h2V449h2V451h2V453h2V454h2V457h2V454h2V451h2V454h2V452h2V453h2V452h2V453h2V451h2V451h2V451h2V448h2V454h2V455h2V454h2V452h2V458h2V456h2V454h2V455h2V457h2V459h2V454h2V453h2V456h2V459h2V460h2V454h2V453h2V451h2V450h2V456h2V456h2V461h2V459h2V461h2V459h2V457h2V460h2V463h2V459h2V460h2V460h2V459h2V460h2V458h2V456h2V458h2V460h2V462h2V462h2V459h2V461h2V462h2V463h2V463h2V463h2V466h2V467h2V464h2V463h2V464h2V465h2V464h2V459h2V454h2V457h2V453h2V451h2V447h2V451h2V446h2V443h2V441h2V438h2V438h2V440h2V435h2V432h2V434h2V430h2V426h2V429h2V428h2V430h2V427h2V429h2V426h2V421h2V417h2V419h2V421h2V421h2V415h2V416h2V413h2V409h2V407h2V403h2V403h2V407h2V400h2V400h2V400h2V402h2V398h2V395h2V401h2V403h2V401h2V396h2V401h2V400h2V403h2V403h2V405h2V399h2V403h2V399h2V401h2V403h2V405h2V403h2V400h2V401h2V404h2V403h2V402h2V401h2V404h2V408h2V403h2V500H540z"/>
<path fill="#5d8dc2" d="M542 431h2V425h2V424h2V421h2V428h2V425h2V428h2V432h2V428h2V427h2V429h2V429h2V426h2V429h2V427h2V426h2V423h2V429h2V432h2V432h2V433h2V429h2V428h2V431h2V434h2V437h2V434h2V432h2V432h2V434h2V438h2V434h2V437h2V440h2V439h2V442h2V441h2V439h2V437h2V438h2V442h2V438h2V438h2V440h2V440h2V438h2V439h2V443h2V442h2V449h2V452h2V453h2V451h2V449h2V448h2V450h2V455h2V454h2V454h2V455h2V458h2V458h2V460h2V461h2V460h2V458h2V460h2V458h2V457h2V456h2V459h2V457h2V456h2V455h2V453h2V459h2V460h2V457h2V458h2V461h2V460h2V457h2V461h2V461h2V465h2V460h2V459h2V462h2V465h2V464h2V459h2V458h2V456h2V456h2V461h2V462h2V466h2V462h2V465h2V465h2V462h2V466h2V468h2V464h2V465h2V465h2V465h2V464h2V463h2V463h2V464h2V465h2V468h2V467h2V464h2V465h2V469h2V467h2V468h2V466h2V472h2V472h2V469h2V469h2V469h2V468h2V468h2V463h2V461h2V461h2V458h2V456h2V452h2V454h2V451h2V450h2V446h2V444h2V445h2V444h2V442h2V437h2V438h2V434h2V431h2V434h2V432h2V435h2V432h2V433h2V431h2V427h2V422h2V424h2V424h2V426h2V420h2V420h2V417h2V415h2V411h2V409h2V408h2V411h2V405h2V404h2V403h2V406h2V403h2V400h2V405h2V408h2V406h2V402h2V406h2V405h2V407h2V408h2V409h2V405h2V407h2V404h2V405h2V409h2V409h2V405h2V403h2V404h2V406h2V407h2V404h2V403h2V407h2V409h2V406h2V500H540z"/>
<path fill="#5585be" d="M542 434h2V428h2V428h2V425h2V432h2V429h2V433h2V436h2V434h2V430h2V436h2V434h2V432h2V435h2V432h2V431h2V429h2V433h2V438h2V437h2V441h2V436h2V434h2V434h2V441h2V442h2V440h2V438h2V437h2V440h2V444h2V440h2V443h2V445h2V447h2V447h2V448h2V446h2V444h2V445h2V447h2V445h2V442h2V447h2V445h2V444h2V444h2V448h2V449h2V454h2V457h2V460h2V456h2V453h2V454h2V456h2V459h2V459h2V459h2V459h2V461h2V464h2V465h2V468h2V467h2V463h2V466h2V463h2V464h2V461h2V464h2V461h2V461h2V461h2V459h2V463h2V464h2V462h2V463h2V468h2V465h2V462h2V465h2V466h2V470h2V465h2V464h2V466h2V468h2V470h2V466h2V464h2V463h2V462h2V468h2V468h2V471h2V467h2V470h2V470h2V467h2V470h2V473h2V468h2V471h2V472h2V470h2V471h2V468h2V468h2V468h2V472h2V474h2V471h2V468h2V470h2V474h2V472h2V471h2V473h2V477h2V477h2V473h2V474h2V475h2V473h2V473h2V469h2V466h2V466h2V464h2V460h2V457h2V461h2V455h2V453h2V451h2V447h2V449h2V450h2V446h2V442h2V443h2V439h2V434h2V440h2V437h2V439h2V436h2V439h2V436h2V431h2V428h2V429h2V430h2V430h2V426h2V424h2V420h2V419h2V416h2V412h2V412h2V415h2V409h2V407h2V408h2V409h2V405h2V404h2V409h2V410h2V409h2V405h2V411h2V408h2V412h2V413h2V414h2V411h2V411h2V408h2V408h2V413h2V413h2V411h2V408h2V407h2V410h2V408h2V406h2V405h2V410h2V414h2V409h2V500H540z"/>
<g filter="url(#bl3)" fill="#f6f2dc" shape-rendering="auto">
<polygon opacity="0.75" points="582,355 600,346 630,331 656,319 700,315 722,321 722,329 690,343 660,353 625,361 598,363"/>
<polygon opacity="0.9" points="712,364 750,346 800,338 852,338 856,352 820,372 770,388 722,390"/>
<polygon opacity="0.5" points="726,322 760,330 800,336 850,336 800,340 740,336"/>
</g>
</g>
<polygon points="656.5,475.5 791.5,406.5 791.5,247.5 656.5,316.5" fill="none" stroke="#ff0000" stroke-width="1" shape-rendering="crispEdges"/>
<path class="ax" d="M511.5 461.5L778.5 507.5L933.5 427.5"/>
<path class="ax" d="M511.5 302.5V461.5"/>
<path class="ax" d="M511.5 302.5h7M511.5 329.5h7M511.5 355.5h7M511.5 382.5h7M511.5 408.5h7M511.5 435.5h7M511.5 461.5h7"/>
<path class="ax" d="M511.5 461.5l4.5 -2.3M556.0 469.2l4.5 -2.3M600.5 476.8l4.5 -2.3M645.0 484.5l4.5 -2.3M689.5 492.2l4.5 -2.3M734.0 499.8l4.5 -2.3M778.5 507.5l4.5 -2.3M778.5 507.5l-6 -1M800.6 496.1l-6 -1M822.8 484.6l-6 -1M844.9 473.2l-6 -1M867.1 461.8l-6 -1M889.2 450.4l-6 -1M911.4 438.9l-6 -1M933.5 427.5l-6 -1"/>
<text x="494" y="306.3" class="l" text-anchor="end">0</text>
<text x="494" y="332.8" class="l" text-anchor="end">-20</text>
<text x="494" y="359.3" class="l" text-anchor="end">-40</text>
<text x="494" y="385.8" class="l" text-anchor="end">-60</text>
<text x="494" y="412.3" class="l" text-anchor="end">-80</text>
<text x="494" y="438.8" class="l" text-anchor="end">-100</text>
<text x="494" y="465.3" class="l" text-anchor="end">-120</text>
<text x="502.8" y="470.8" class="l" text-anchor="middle">19:12:20</text>
<text x="547.1" y="478.6" class="l" text-anchor="middle">19:12:40</text>
<text x="591.4" y="486.4" class="l" text-anchor="middle">19:13:00</text>
<text x="635.7" y="494.2" class="l" text-anchor="middle">19:13:20</text>
<text x="680.0" y="502.0" class="l" text-anchor="middle">19:13:40</text>
<text x="724.3" y="509.8" class="l" text-anchor="middle">19:14:00</text>
<text x="768.6" y="517.6" class="l" text-anchor="middle">19:14:20</text>
<text x="816.6" y="514.5" class="l" text-anchor="middle">1210</text>
<text x="838.7" y="503.1" class="l" text-anchor="middle">1215</text>
<text x="860.8" y="491.7" class="l" text-anchor="middle">1220</text>
<text x="882.9" y="480.3" class="l" text-anchor="middle">1225</text>
<text x="905.0" y="468.9" class="l" text-anchor="middle">1230</text>
<text x="927.1" y="457.5" class="l" text-anchor="middle">1235</text>
<text x="949.2" y="446.1" class="l" text-anchor="middle">1240</text>
<text x="971.3" y="434.7" class="l" text-anchor="middle">1245</text>
<text class="l" text-anchor="middle" transform="translate(597,512) rotate(11)">Time (UTC)</text>
<text class="l" text-anchor="middle" transform="translate(933,485.5) rotate(-28)">Frequency (MHz)</text>
<text class="l" text-anchor="middle" transform="translate(438,382) rotate(-90)">PSD (dBm)</text>
</g>
<g id="power">
<line class="gr" x1="98.5" y1="646.5" x2="982.5" y2="646.5"/>
<line class="gr" x1="98.5" y1="676.5" x2="982.5" y2="676.5"/>
<line class="gr" x1="240.5" y1="640.5" x2="240.5" y2="699.5"/>
<line class="gr" x1="390.5" y1="640.5" x2="390.5" y2="699.5"/>
<line class="gr" x1="540.5" y1="640.5" x2="540.5" y2="699.5"/>
<line class="gr" x1="690.5" y1="640.5" x2="690.5" y2="699.5"/>
<line class="gr" x1="840.5" y1="640.5" x2="840.5" y2="699.5"/>
<rect class="ax" x="90.5" y="632.5" width="900.0" height="75.0"/>
<path class="ax" d="M90.5 707.5v-8M90.5 632.5v8M165.5 707.5v-4M165.5 632.5v4M240.5 707.5v-8M240.5 632.5v8M315.5 707.5v-4M315.5 632.5v4M390.5 707.5v-8M390.5 632.5v8M465.5 707.5v-4M465.5 632.5v4M540.5 707.5v-8M540.5 632.5v8M615.5 707.5v-4M615.5 632.5v4M690.5 707.5v-8M690.5 632.5v8M765.5 707.5v-4M765.5 632.5v4M840.5 707.5v-8M840.5 632.5v8M915.5 707.5v-4M915.5 632.5v4M990.5 707.5v-8M990.5 632.5v8M90.5 646.5h7M990.5 646.5h-7M90.5 676.5h7M990.5 676.5h-7"/>
<text x="89" y="729.5" class="l" text-anchor="middle">19:12:20</text>
<text x="239" y="729.5" class="l" text-anchor="middle">19:12:40</text>
<text x="389" y="729.5" class="l" text-anchor="middle">19:13:00</text>
<text x="539" y="729.5" class="l" text-anchor="middle">19:13:20</text>
<text x="689" y="729.5" class="l" text-anchor="middle">19:13:40</text>
<text x="839" y="729.5" class="l" text-anchor="middle">19:14:00</text>
<text x="989" y="729.5" class="l" text-anchor="middle">19:14:20</text>
<text x="76.5" y="650" class="l" text-anchor="end">-80</text>
<text x="76.5" y="680" class="l" text-anchor="end">-100</text>
<text x="76.5" y="710.5" class="l" text-anchor="end">-120</text>
<text x="538" y="757.5" class="l" text-anchor="middle">Time (UTC)</text>
<text class="l" text-anchor="middle" transform="translate(19.5,670) rotate(-90)">Power (dBm)</text>
<polyline points="150.0,691.5 151.0,691.5" fill="none" stroke="#ffff00" stroke-width="1" shape-rendering="crispEdges"/>
<polyline points="180.5,692.4 188.0,688.3 195.5,688.3 203.5,691.5" fill="none" stroke="#ffff00" stroke-width="1" shape-rendering="crispEdges"/>
<polyline points="218.3,690.3 225.5,687.1" fill="none" stroke="#ffff00" stroke-width="1" shape-rendering="crispEdges"/>
<polyline points="248.1,686.6 255.6,679.8 263.1,678.0 270.6,676.3 278.3,674.2 285.6,675.5 293.4,687.5 300.9,677.5 308.4,671.6 323.6,671.6 330.6,675.9 338.1,679.5 345.6,674.4 353.3,669.4 360.3,672.8 368.4,694.7 375.6,671.6 383.0,670.2 390.5,678.3 398.1,672.5 405.6,666.3 413.1,667.5 420.6,668.3 428.0,669.2 436.1,665.0 443.9,661.1 450.9,663.4 458.4,679.4 465.8,666.3 473.6,668.9 480.6,671.6 488.1,666.6 495.6,661.6 502.8,665.5 510.6,663.4 518.1,654.1 525.6,647.8 533.8,652.5 540.5,651.3 548.1,651.3 555.6,658.8 563.1,660.6 570.6,662.7 578.0,661.1 586.1,667.8 593.1,669.4 600.6,661.1 608.4,665.0 615.8,683.4 623.6,663.4 630.6,663.4 638.1,668.9 645.0,671.6 653.3,666.6 660.6,665.0 668.1,666.6 675.6,670.0 683.0,675.9 690.5,669.7 698.1,668.4 705.6,677.5 713.8,685.6 720.6,683.0 728.0,680.9 736.1,679.1 743.1,675.9 750.6,672.5 765.8,672.5 773.6,676.7 780.6,684.5 788.1,677.5 795.0,675.6 803.3,679.1 810.3,704.4 818.1,683.8 825.6,675.3 833.8,684.7" fill="none" stroke="#ffff00" stroke-width="1" shape-rendering="crispEdges"/>
<polyline points="848.3,690.5 860.0,688.8 869.4,687.3 880.3,686.6 887.3,686.6 894.4,688.4 900.6,689.7" fill="none" stroke="#ffff00" stroke-width="1" shape-rendering="crispEdges"/>
<line x1="525.5" y1="632.5" x2="525.5" y2="707.5" stroke="#ff0000" stroke-width="1" shape-rendering="crispEdges"/>
</g>
</svg></body></html>
